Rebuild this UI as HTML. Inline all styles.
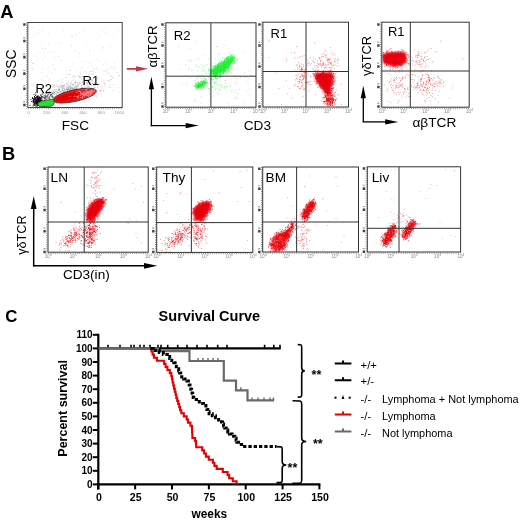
<!DOCTYPE html>
<html><head><meta charset="utf-8"><style>
html,body{margin:0;padding:0;background:#fff;width:520px;height:520px;overflow:hidden}
svg{display:block;font-family:"Liberation Sans", sans-serif;will-change:transform}
</style></head><body>
<svg width="520" height="520" viewBox="0 0 520 520">
<defs><filter id="b" x="-20%" y="-20%" width="140%" height="140%"><feGaussianBlur stdDeviation="0.85"/></filter>
<filter id="b2" x="-20%" y="-20%" width="140%" height="140%"><feGaussianBlur stdDeviation="1.2"/></filter></defs>
<rect width="520" height="520" fill="#fff"/>
<text x="0.3" y="17.6" font-size="18.3" font-weight="bold" text-anchor="start" fill="#000" >A</text>
<text x="1.9" y="159.6" font-size="18.3" font-weight="bold" text-anchor="start" fill="#000" >B</text>
<text x="5.2" y="321.6" font-size="16.8" font-weight="bold" text-anchor="start" fill="#000" >C</text>
<path d="M26.6 22.5V108.7H122.2" stroke="#777" stroke-width="1" fill="none" stroke-dasharray="0.8 1.4"/>
<path d="M41.5 43h1M74.5 50.5h1M83.5 30.5h1M32.5 85h1M43 69h1M113 37h1M36 60h1M41.5 32h1M114.5 67.5h1M85.5 42h1M63 29h1M75.5 34h1M89 63.5h1M54.5 69h1M42 48.5h1M100.5 69.5h1M89.5 50h1M75.5 35.5h1M103 47.5h1M79 53h1M117.5 87.5h1M48 34h1M79.5 32.5h1M73 64h1M61.5 91h1M82.5 87.5h1M51 73.5h1M101.5 31h1M107.5 80.5h1M41.5 72.5h1M71.5 36h1M54.5 57.5h1M37 30h1M110 80h1M68 74.5h1M43 80.5h1M90 77.5h1M48 44.5h1M110.5 79.5h1M49 43h1M33 35.5h1M47.5 52.5h1M60.5 60h1M71.5 45.5h1M111 67h1M92 67h1M60 42.5h1M31.5 68h1M44 50.5h1M119 75.5h1M71 46h1M91.5 80h1M34.5 54.5h1M33 63.5h1M105.5 71.5h1M82.5 61h1M57.5 44h1M58 92h1M38 33h1M45 48.5h1M32 63.5h1M105 28.5h1M71.5 37h1M41 80h1M96 79h1M47.5 69h1M35.5 87h1M83.5 77h1M110 46.5h1M32 69.5h1M102 49.5h1M47 76.5h1M38 52.5h1M31.5 37h1M56 85h1M95 73h1M74 76.5h1M106 64h1M49 79h1M58 56.5h1M53 64.5h1M117.5 30.5h1M114 63.5h1M60.5 81h1M69 74h1M58 80.5h1M96.5 59.5h1M33.5 85.5h1M36 34h1M66 85h1M51.5 51.5h1M105.5 32.5h1M96 68h1M78.5 57h1M89 55h1M91.5 83.5h1M99.5 35.5h1M112.5 68h1M43 54h1M86 62h1M42.5 60h1M69.5 35.5h1M100 61h1M110 84.5h1M97.5 38h1M33 27.5h1M62 31h1M44.5 57.5h1M119 92h1M42.5 29.5h1" stroke="#999" stroke-opacity="0.3" stroke-width="1" fill="none"/>
<path d="M57.5 94h1M112.5 84.5h1M69 93h1M69 87.5h1M76 70h1M80 78h1M62 79.5h1M47 87h1M97 93.5h1M79.5 93.5h1M69.5 74.5h1M81.5 88.5h1M70 90h1M87.5 77.5h1M49 91.5h1M73.5 84.5h1M100 93h1M71 93h1M97.5 86.5h1M97.5 78.5h1M96 96h1M92.5 78h1M92 91.5h1M84 80.5h1M106 70h1M87.5 83.5h1M57 100h1M83 76.5h1M89 80h1M40 90.5h1M84 89h1M81.5 85.5h1M87 82.5h1M101 81.5h1M84.5 88.5h1M56.5 86.5h1M108 81h1M73 89.5h1M69 90h1M65.5 91h1M49.5 102.5h1M65.5 77.5h1M73 84.5h1M79 77.5h1M54 94.5h1M72.5 89h1M41 87h1M87 83.5h1M108.5 73.5h1M86.5 105h1M61.5 83.5h1M77 86h1M94.5 83h1M63.5 91h1M62 94.5h1M78 100h1M97.5 87.5h1M81.5 85h1M87 93h1M88 81h1M103 81h1M75 81h1M66 84.5h1M88.5 82h1M99 84h1M81 67.5h1M74.5 90.5h1M112.5 90.5h1M103.5 71h1M36.5 100.5h1M80 92.5h1M76 88h1M49.5 96.5h1M70 90.5h1M86.5 83h1M84 84.5h1M93.5 85.5h1M66.5 84.5h1M111.5 77h1M98 84h1M66 83.5h1M81 87h1M88 74.5h1M66.5 88h1M105 62h1M85.5 80h1M85.5 80.5h1M87.5 95h1M85.5 87h1M84 79h1M88 82h1M62 89.5h1M75 92h1M76.5 82.5h1M108 85.5h1M103.5 84h1M75 83.5h1M74 94h1M77.5 75.5h1M75 76.5h1M79 77h1M53.5 93h1M73.5 75h1M96 97h1M52.5 105.5h1M64 86h1M72 77h1M104 83h1M63 88h1M48 91h1M93.5 70h1M70 89h1M100.5 90h1M68 83h1M86 81.5h1M74 95h1M111 79.5h1M75 91h1M41.5 95h1M92 83.5h1M70 70h1M94.5 93.5h1M65 94h1M89.5 72h1M98.5 90.5h1M82.5 84.5h1M90.5 71.5h1M81.5 92.5h1M55.5 99h1M66.5 74h1M74.5 80h1M82 76.5h1M97 76h1M84 80h1M74 95.5h1M81.5 82.5h1M55.5 100h1M91.5 80h1M81 78h1M57 85.5h1M85.5 86.5h1M65 94.5h1M93.5 83.5h1M97.5 79h1M76.5 90h1M78.5 91.5h1M56 101.5h1M62.5 88.5h1M52.5 96.5h1M104.5 87h1M91.5 71.5h1M62 86.5h1M62 98h1M81.5 85h1M86 77h1M59 84.5h1M88 86h1M91 90.5h1M50.5 89h1M78.5 76h1M69.5 95.5h1M101 88h1M78.5 84.5h1M98.5 78h1M87 93.5h1M70 83.5h1M79 90h1M87.5 84.5h1M86 72.5h1M61.5 91.5h1M57.5 81.5h1M53 85.5h1M73 80h1M85.5 96.5h1M77.5 95.5h1M81.5 77h1M71.5 80.5h1M91 74.5h1M104.5 83.5h1M40 101h1M107 73h1M94 69h1M80 73.5h1M84.5 71.5h1M94.5 82.5h1M73 91.5h1M108 69.5h1M89.5 85.5h1M53 104h1M114 70h1M112 78h1M77.5 97h1M83 87h1M109.5 87.5h1M93 72h1M49.5 101.5h1M60.5 91.5h1M57 90h1M56 103.5h1M58 90h1M76.5 95h1M50.5 92.5h1M75 90.5h1M86.5 80.5h1M82 82.5h1M87 83h1M65 89h1M89 99.5h1M69 90.5h1M103 65h1M42 86.5h1M80 103h1M87.5 92.5h1M69.5 70.5h1M35 104h1M79.5 76.5h1M97 70h1M102.5 90.5h1M61.5 82h1M92.5 74.5h1M92.5 73.5h1M94 82.5h1M68 82h1M79.5 72h1M72 84.5h1M89 74h1M110.5 75.5h1M58.5 101h1M110 76.5h1M60.5 90.5h1M64 87h1M109 81h1M81.5 87.5h1M78.5 92h1M94.5 79h1M84 102h1M86 82.5h1M118 76h1M58 96h1M59.5 87h1M84 83.5h1M62.5 86h1M68.5 97h1M63 85.5h1M116.5 72.5h1M109 87.5h1M72.5 77h1M88 88.5h1M97 82h1M103.5 89.5h1M60 101h1M80.5 81.5h1M75 100.5h1" stroke="#999" stroke-opacity="0.35" stroke-width="1" fill="none"/>
<path d="M75 82h1M67 89.5h1M63.5 89h1M51.5 97h1M56 92h1M59 89.5h1M74 89h1M58 89.5h1M62 94h1M67.5 90.5h1M62.5 90.5h1M67 84h1M82.5 83h1M61 95.5h1M68.5 89.5h1M58.5 87.5h1M69 93h1M57.5 96.5h1M53.5 91.5h1M71.5 88.5h1M72.5 86h1M53.5 87.5h1M52.5 90.5h1M51 95h1M57.5 86.5h1M91.5 80h1M53.5 97.5h1M77.5 83h1M49.5 91.5h1M77.5 85.5h1M57.5 92.5h1M77.5 82.5h1M61 87h1M90.5 88.5h1M76 86.5h1M71 82h1M68 85.5h1M51.5 92h1M63 92.5h1M73.5 88.5h1M56.5 95h1M65.5 94h1M54 85h1M62.5 97.5h1M71 88h1M76 89h1M70.5 87h1M67 90.5h1M58.5 88.5h1M68.5 92.5h1M73.5 89.5h1M73.5 96h1M69.5 92h1M86.5 84h1M69.5 92h1M84 86h1M70 89h1M54 97h1M62 86h1M63 85.5h1M55.5 93h1M57 96h1M50.5 95h1M73 92.5h1M76 88h1M67 89.5h1M77.5 84.5h1M71.5 88h1M68.5 88.5h1M88 81.5h1M69 90h1M73 89.5h1M71.5 91.5h1M50 94.5h1M53.5 94.5h1M53 91h1M66.5 94h1M72.5 89h1M80 83h1M43.5 95h1M64 94.5h1M87.5 79.5h1M93.5 87h1M75.5 88.5h1M92 83h1M61.5 92h1M52 95.5h1M65.5 91.5h1M69 86h1M79 83h1M74 82.5h1M69.5 86.5h1M66 88h1M42 93.5h1M67.5 91.5h1M49 88.5h1M57 92h1M59 89.5h1M76 90h1M73 85h1M67 89h1M52 97h1M66.5 88.5h1M82 88h1M76 91h1M72.5 84h1M63 94h1M58 92.5h1M71.5 93h1M80.5 88.5h1M65 93h1M71.5 88h1M81 87.5h1M59 96h1M64 92.5h1M50 94.5h1M55.5 90h1M47.5 102h1M64.5 91h1M77.5 86.5h1M70.5 84.5h1M68 88h1M71.5 89h1M50 89h1M56 95h1M71 90h1M42.5 88.5h1M59 91h1M60 93h1M63.5 87h1M57 93h1M67 89.5h1M90 82.5h1M66.5 87h1M62.5 92.5h1M72 88h1M70 89h1M43.5 86.5h1M91 85.5h1M64 85h1M53.5 98h1M36 97.5h1M75.5 88h1M74 87.5h1M90.5 80h1M52 95h1M81 85.5h1M76.5 85.5h1M54.5 97.5h1M84 89.5h1M60.5 88h1M53.5 93h1M72.5 89.5h1M51 95h1M66.5 90h1M65.5 89.5h1M72.5 88.5h1M68 87.5h1M70 88.5h1M44 98h1M64 93.5h1M64 90h1M68 89.5h1M60 86h1M84 80h1M63 93h1M70.5 90.5h1M75 91.5h1M71.5 97.5h1M55.5 93.5h1M61.5 89.5h1M70 93.5h1M58 90h1M74 89.5h1M87.5 87h1M68 88.5h1M68 89h1M51.5 94h1M64 90h1M63 96h1M74 90.5h1M58.5 89h1M63 91.5h1M62 90.5h1M76.5 88h1M55 91.5h1M59 92.5h1M53.5 93h1M73.5 88h1M56 91h1M67.5 91h1M74.5 87h1M53 98h1M69.5 90.5h1M68.5 86h1M63 91.5h1M77 87h1M33 99h1M71 92.5h1M75.5 95h1M82 89.5h1M75 83h1M75.5 89h1M61 93.5h1M70 87.5h1M64.5 89.5h1M68 88h1M70 83h1M61.5 86h1M61.5 93h1M66 89.5h1M68 94.5h1M55 96h1M49.5 93h1M67 87h1M69 91.5h1M53.5 93.5h1M60.5 85.5h1M63.5 88.5h1M79.5 83.5h1M83.5 83.5h1M87 85.5h1M71.5 91h1M76.5 91.5h1M84 83.5h1M50.5 86h1M62.5 93.5h1M70 89h1M62 89h1M63.5 92h1M48 97.5h1M50.5 94h1M59 91h1M54 90h1M62.5 87.5h1M91.5 81.5h1M58.5 90.5h1M52.5 86h1M63.5 91.5h1M50 94.5h1M53 93.5h1M70 90.5h1M70 86.5h1M75 86h1M70 91h1M61.5 87h1M71.5 85h1M55.5 89.5h1M74.5 87h1M42.5 99h1M89.5 89h1M60 92h1M72 91h1M65.5 86.5h1M74.5 89.5h1M51.5 93h1M68.5 89h1M72 90.5h1M71.5 88h1M52 96h1" stroke="#8a9a9a" stroke-opacity="0.5" stroke-width="1" fill="none"/>
<path d="M52.5 98.5h1M46 96.5h1M52 97.5h1M47.5 97.5h1M43.5 98.5h1M42.5 97h1M45 96h1M37.5 97h1M47 96h1M44.5 97.5h1M49 97.5h1M43 97.5h1M44 95.5h1M40 98h1M43.5 101h1M45.5 96h1M45.5 100h1M42 97h1M43 97h1M46.5 98.5h1M40.5 98h1M52 94h1M45 95h1M36 99h1M50.5 94.5h1M39 99h1M46.5 98h1M49.5 95h1M46.5 93h1M50.5 95.5h1M50.5 97h1M44.5 96.5h1M41.5 94h1M45.5 97h1M42 99h1M46.5 97h1M42 94h1M49 96.5h1M45.5 96h1M45 96.5h1M43 93.5h1M48.5 93h1M44.5 96.5h1M46 93.5h1M51 96.5h1M49.5 98h1M41.5 92h1M48 98.5h1M50 94.5h1M45.5 97h1M38.5 97h1M44 100h1M44 100h1M45.5 93.5h1M54 92.5h1M49 99h1M43.5 95h1M50 95.5h1M41 96h1M45 98.5h1M45 98h1M53 97h1M52 97h1M40.5 100.5h1M47 96h1M41 95h1M41.5 97.5h1M41 96.5h1M44 98.5h1M45 96.5h1M51 94.5h1M48 94h1M47.5 96.5h1M46.5 95.5h1M42 97h1M44.5 99h1M49 93.5h1M48 95h1M47.5 95h1M41 100h1M47 94h1M38.5 97.5h1M41.5 97h1M49 98.5h1M45.5 99.5h1M50.5 94.5h1M40 99.5h1M49.5 100h1M52 96.5h1M52 93h1" stroke="#555" stroke-opacity="0.6" stroke-width="1" fill="none"/>
<path d="M37.5 100.5h1M41 103h1M29.5 105.5h1M35 104h1M36 102.5h1M38.5 102h1M34.5 105.5h1M38 101.5h1M38.5 100h1M41.5 102h1M38 102.5h1M35 98h1M37.5 102.5h1M40.5 103h1M34.5 103h1M39 104.5h1M38 98h1M40 99.5h1M38.5 97h1M39 99h1M39.5 107h1M40 98h1M35 99h1M38.5 102.5h1M37.5 102.5h1M38.5 103.5h1M41 101.5h1M37.5 96h1M34 99.5h1M34 102h1M39.5 100h1M36 100h1M37.5 100h1M38 102.5h1M38 104h1M37 102h1M41 101.5h1M39 101.5h1M36 100h1M35 101.5h1M35.5 100h1M40 101h1M39.5 102.5h1M39 99.5h1M39 104.5h1M37.5 104h1M34 99h1M38 104h1M36 101h1M36 101h1M34 97h1M37 96.5h1M34.5 99.5h1M34.5 102h1M36 101h1M34.5 99h1M38 102.5h1M36 102.5h1M37.5 102h1M41 100h1M38 102.5h1M36.5 98h1M38.5 102h1M37 101.5h1M37 98.5h1M37.5 96h1M37 97h1M36 103.5h1M36.5 100h1M38 100.5h1M36 100h1M40.5 103.5h1M38 98h1M38.5 97.5h1M38 98h1M41.5 96.5h1M40 103.5h1M32.5 100.5h1M40.5 104.5h1M33 100h1M34 98h1M35.5 107h1M37 100.5h1M36 103.5h1M38.5 98.5h1M40.5 98h1M36 102.5h1M41 100.5h1M37.5 105h1M38.5 104.5h1M39.5 102h1M38.5 104h1M37 106h1M32 98.5h1M40.5 102.5h1M35.5 102.5h1M39.5 99.5h1M38.5 101h1M36.5 101h1M39.5 98h1M36 103.5h1M34 96.5h1M38 101.5h1M36.5 101.5h1M34.5 100h1M33.5 100h1M40.5 101.5h1M38.5 100h1M41 102h1M34 103.5h1M36 103h1M37 102h1M37 98.5h1M33 104h1M36.5 102h1M35.5 95h1M34 105.5h1M35 100h1M33.5 99.5h1M36 100.5h1M36.5 99.5h1M35.5 101.5h1M37.5 101h1M41 102h1M37 99.5h1M39.5 98h1M33 98.5h1M38.5 98h1M40 101h1M33 100.5h1M41 98.5h1M33.5 103h1M40 104.5h1M36 102h1M37.5 105h1M42 101h1M40 100.5h1M38 98.5h1M35 102.5h1M34.5 104h1M35.5 101.5h1M36.5 100.5h1M37 104.5h1M44.5 97.5h1M37.5 101h1M34.5 102h1M34.5 101h1M40 95h1M37.5 102.5h1M34.5 103h1M37.5 100h1M39.5 97.5h1M38.5 100.5h1M34.5 101h1M36 103.5h1M33 100.5h1M35.5 106h1M34 104.5h1M32.5 102.5h1M36.5 102.5h1M35 95.5h1M33 105h1M37.5 98.5h1M39 99h1M35 97.5h1M34.5 102h1M31 101.5h1M38.5 97h1M38 102h1M38.5 99.5h1M38 99.5h1M38 101.5h1M36 97h1M40.5 104.5h1M39 99h1M36 106h1M38.5 98.5h1M37 101.5h1M36.5 98.5h1M40 103h1M36.5 96.5h1M35.5 101h1M39 100h1M39.5 101.5h1M35 93h1M34 97h1M36.5 102.5h1M40 101h1M37.5 100.5h1M36 97h1M38.5 102.5h1M40.5 104.5h1M39 105h1M36 100h1M36.5 97.5h1M36.5 100.5h1M38.5 101.5h1M32.5 101.5h1M40.5 96h1M35 101.5h1M33.5 99.5h1M37 97.5h1M37.5 102.5h1M34 101.5h1M39.5 101h1M38 103.5h1M36.5 104.5h1M38 98.5h1M38 104h1M39 99.5h1M38 105.5h1M37.5 105h1M40 101.5h1M38.5 100.5h1M39.5 101h1M35.5 101.5h1M37 102.5h1M38 98h1M35.5 102.5h1M38 101.5h1M43.5 105h1M37 103.5h1M40 102.5h1M33 102h1M32.5 106h1M36.5 104.5h1M36.5 102h1M39.5 102h1M39.5 101.5h1M36 101h1M36 101h1M40.5 98h1M33 101.5h1M41 104.5h1M40 105.5h1M35.5 102h1M30.5 99.5h1M38.5 97h1M32 97.5h1M37.5 105h1M43.5 106h1M33.5 94.5h1M37.5 105h1M33 100h1M36 101.5h1M36.5 103h1M39.5 102h1M34.5 98.5h1M37.5 105h1M36.5 104.5h1M35.5 103.5h1M38 103h1" stroke="#1a0a1a" stroke-opacity="0.85" stroke-width="1" fill="none"/>
<ellipse cx="74.8" cy="95.6" rx="22" ry="5.8" transform="rotate(-12.5 74.8 95.6)" fill="#ea2a30" stroke="#333" stroke-width="0.85"/>
<ellipse cx="68" cy="97" rx="14" ry="4.3" transform="rotate(-12.5 68 97)" fill="#e00000" filter="url(#b2)"/>
<path d="M95 93.5h1M83.5 95.5h1M77 97.5h1M103 91h1M89.5 92.5h1M91.5 91h1M90.5 91.5h1M84.5 94h1M85.5 89.5h1M99 91h1M77.5 97.5h1M86.5 93.5h1M90.5 90.5h1M69.5 96.5h1M88.5 95h1M82 93.5h1M89 92h1M85.5 94h1M81.5 98h1M81.5 94.5h1M84.5 92h1M90.5 94.5h1M95.5 92.5h1M84.5 95.5h1M78.5 95h1M90 93.5h1M79.5 91.5h1M96 90h1M76.5 92.5h1M87.5 95.5h1M87 95.5h1M88 94h1M92 91h1M88 92h1M83 95.5h1M82 94.5h1M82 94h1M84 96h1M87 93h1M95 85h1M78.5 88.5h1M86.5 94h1M90.5 93h1M82 98h1M88 92h1M80 95.5h1M83 92.5h1M87.5 93h1M82 96.5h1M80 92h1M88 93h1M86.5 92h1M86 92h1M77 96.5h1M80 94h1M90.5 92h1M101.5 86.5h1M82 94h1M94 91h1M78 97.5h1M80.5 93.5h1M91 90.5h1M83.5 94.5h1M85 94h1M80.5 94h1M79 91h1M96.5 92h1M91 90h1M86 92.5h1M78 96h1M81.5 93.5h1M77.5 97h1M90.5 93h1M80.5 93h1M93 91h1M87.5 93h1M80 97.5h1M74.5 96h1M85 89.5h1M88 93.5h1M86 91h1M89 95h1M88 96.5h1M91.5 93.5h1M94 90h1M83 95h1M90 95.5h1M93 92h1M87 92h1M83.5 92.5h1M91 91h1M84 94h1M83 93h1M73.5 96.5h1M84.5 94h1M87.5 88.5h1M100.5 90.5h1M86.5 89h1M90.5 93h1M84.5 94h1M94 91h1M82 97h1M88.5 92.5h1M100.5 90.5h1M86 94h1M84.5 94h1M87.5 91.5h1M85.5 94h1M89.5 94h1M91.5 92.5h1M89.5 91.5h1M86 95.5h1M75.5 96.5h1M104.5 85h1M94.5 87.5h1M89.5 96h1M95 89.5h1M78 91.5h1M90.5 91.5h1M86.5 93.5h1" stroke="#f6a0a0" stroke-opacity="0.7" stroke-width="1" fill="none"/>
<path d="M38.2 105.6C37.2 103.5 38.5 101.6 42 100.9L51.5 99.4C54.2 99.2 54.8 101.8 53.8 103.8C53.2 105.6 52 106.3 49.5 106.4L40.5 106.5C39.4 106.5 38.6 106.2 38.2 105.6Z" fill="#22e22c" stroke="#222" stroke-width="0.7"/>
<rect x="27.8" y="22.5" width="94.4" height="85.0" fill="none" stroke="#444" stroke-width="1"/>
<path d="M23.200000000000003 24.5h2.4M23.200000000000003 41h2.4M23.200000000000003 57.1h2.4M23.200000000000003 73.6h2.4M23.200000000000003 88.8h2.4M23.200000000000003 105h2.4" stroke="#444" stroke-width="2.6"/>
<path d="M23.200000000000003 37.8h2M23.200000000000003 53.9h2M23.200000000000003 70.39999999999999h2M23.200000000000003 85.6h2M23.200000000000003 101.8h2" stroke="#aaa" stroke-width="1.4"/>
<text x="28.5" y="113.6" font-size="4.4" fill="#999" text-anchor="middle">0</text>
<text x="46.7" y="113.6" font-size="4.4" fill="#999" text-anchor="middle">200</text>
<text x="64.9" y="113.6" font-size="4.4" fill="#999" text-anchor="middle">400</text>
<text x="83.1" y="113.6" font-size="4.4" fill="#999" text-anchor="middle">600</text>
<text x="101.3" y="113.6" font-size="4.4" fill="#999" text-anchor="middle">800</text>
<text x="119.5" y="113.6" font-size="4.4" fill="#999" text-anchor="middle">1000</text>
<text x="35.4" y="92.8" font-size="13" font-weight="normal" text-anchor="start" fill="#000" >R2</text>
<text x="82.6" y="84.6" font-size="13" font-weight="normal" text-anchor="start" fill="#000" >R1</text>
<text x="15.9" y="78" font-size="13.8" font-weight="normal" text-anchor="start" fill="#000" transform="rotate(-90 15.9 78)">SSC</text>
<text x="61.8" y="129.6" font-size="13.6" font-weight="normal" text-anchor="start" fill="#000" >FSC</text>
<path d="M126.8 67.9H136V66.2L148 68.8L136 71.5V69.7H126.8Z" fill="#c8354a"/>
<path d="M164.70000000000002 22.8V108.4H256" stroke="#777" stroke-width="1" fill="none" stroke-dasharray="0.8 1.4"/>
<path d="M215 59h1M227.5 49h1M195.5 66.5h1M249.5 95h1M201 103h1M250 75h1M195.5 64.5h1M211 91h1M226 67.5h1M194.5 59.5h1M205.5 89h1M224.5 45.5h1M231.5 90.5h1M244 102h1M216.5 46.5h1M247 91h1M196 41.5h1M220.5 48h1M232 59h1M181 105h1M234 43.5h1M236.5 69.5h1M217 69h1M244.5 51.5h1M227.5 103.5h1M202.5 55.5h1M235.5 98.5h1M214 75.5h1M226 86.5h1M249 88.5h1M227 84h1M233.5 92.5h1M236 97.5h1M190 49h1M178 46h1M180.5 69.5h1M210 47h1M247.5 78.5h1M208.5 101h1M244.5 73.5h1" stroke="#16ee2a" stroke-opacity="0.3" stroke-width="1" fill="none"/>
<path d="M212.5 96h1M212 80h1M215 81.5h1M216 81.5h1M201.5 75.5h1M233 67h1M208.5 88.5h1M221.5 86h1M189.5 77.5h1M201 64h1M221.5 87h1M198.5 66.5h1M209.5 75h1M200.5 96.5h1M223.5 73h1M210 97.5h1M243.5 72h1M220.5 87.5h1M202 71h1M232.5 70h1M211 64h1M207 82.5h1M206.5 64.5h1M208.5 92h1M218.5 71h1M218 80h1M217.5 60h1M220 74h1M226.5 64h1M229 71.5h1M195.5 88h1M210 79.5h1M214 86h1M229.5 86h1M224.5 61.5h1M195.5 78h1M204.5 80h1M218 63h1M203.5 65.5h1M205.5 74h1M224 88h1M204 71h1M235 84h1M219 54.5h1M204 77.5h1M209 94h1M217 78.5h1M202.5 66.5h1M208 70.5h1M213 79.5h1M219 85h1M199.5 78h1M219 90.5h1M213.5 79h1M206 80h1M221 70.5h1M210.5 75.5h1M223 65.5h1M226.5 73h1M239 89.5h1M211 70.5h1M246 81.5h1M223 72h1M214.5 83.5h1M223.5 68.5h1M231 79h1M204.5 85h1M214 83h1M209.5 79.5h1M196.5 79.5h1M197.5 77.5h1M185 75.5h1M224.5 80.5h1M230.5 66h1M235 90.5h1M201.5 69h1M209 76h1M218 53.5h1M223 73.5h1M203.5 84.5h1M212 86.5h1M222.5 73h1M230 83.5h1M210 61.5h1M209.5 81.5h1M213 92h1M219 77.5h1M221 68h1M214.5 70h1M187.5 60h1M225 72h1M214.5 62.5h1M209 83h1M217 71h1M234.5 75.5h1M211.5 86.5h1M195 81h1M202.5 69h1M207.5 77h1M217 78.5h1M218.5 88.5h1M236.5 82.5h1M225 72.5h1M202.5 81.5h1M216.5 83.5h1M194 100.5h1M200.5 76.5h1M228 63.5h1M209.5 57.5h1M198.5 58.5h1M217 78.5h1M212 87.5h1M233 76h1M213.5 73.5h1M210.5 88h1M219 73h1M213 81h1M211 79h1M215.5 88.5h1M230 63h1M214 82.5h1M210.5 83.5h1M220 81.5h1M215.5 79h1M222.5 62.5h1M205 67h1M236.5 79h1M220.5 77.5h1M210 69.5h1M226.5 72.5h1M235 78h1M217 74h1M215 76.5h1M234.5 97h1M202 78.5h1M224.5 68h1M208.5 72h1M187 82h1M215.5 75h1M217 78.5h1M244 77.5h1M226 71.5h1M220.5 73h1M214.5 68h1M206.5 80h1M225 80.5h1M208 79h1M185.5 84.5h1M215.5 78.5h1M230 72.5h1M227.5 72h1M223 72.5h1M220 89.5h1M208.5 70.5h1M212.5 79h1M249.5 71h1M191.5 70.5h1M197 71h1M216.5 67.5h1M208 59.5h1M218.5 69.5h1M229.5 86h1M206 73h1M217 83h1M196.5 75.5h1M239 75.5h1M219 76.5h1M202 85h1M219.5 78h1M225 83.5h1M193.5 80.5h1M209.5 78h1M208 68.5h1M228 76.5h1M213 74h1M217.5 76.5h1M188 68.5h1M214 83h1M233 68h1M240 77.5h1M222.5 72h1M209.5 89.5h1M214 75.5h1M231 92h1M199 75h1M217 93h1M246.5 76.5h1M221.5 84.5h1M231 74h1M227.5 70.5h1M185 64.5h1M219.5 84h1M190 60.5h1M217 46.5h1M224 86.5h1M181.5 84h1M215 90h1M221 75h1M219 85.5h1M220 77.5h1M200 81.5h1M218 94h1M217.5 76.5h1M210 84h1M215 71h1M237 93.5h1M212.5 68h1M231.5 70h1M251.5 76h1M229.5 65.5h1M217.5 87h1M223 72.5h1M247.5 84h1M215 72h1M214.5 89.5h1M208.5 77.5h1M208 88.5h1M216 85h1M224.5 72h1M226.5 86h1" stroke="#16ee2a" stroke-opacity="0.35" stroke-width="1" fill="none"/>
<path d="M214 74h1M227 66.5h1M210 71h1M221.5 71h1M221.5 71.5h1M210 72h1M224 69h1M231.5 60.5h1M220 65.5h1M214 72h1M234 57.5h1M218 68.5h1M223 70.5h1M218 65h1M222 70.5h1M229.5 65.5h1M231 60.5h1M212.5 71.5h1M215.5 75.5h1M226.5 57.5h1M212.5 66.5h1M229.5 64.5h1M228 67h1M217 72.5h1M232 59.5h1M230 61.5h1M221.5 70.5h1M230 56.5h1M225 58.5h1M225.5 64.5h1M225 67h1M216.5 72.5h1M225 63h1M226 67.5h1M223.5 61h1M232 56.5h1M234.5 62h1M214.5 69h1M217.5 67h1M216.5 72h1M224 65.5h1M213 69h1M226 66h1M226 57.5h1M232 61h1M234.5 61.5h1M210.5 72.5h1M225.5 66.5h1M215 74h1M219 66.5h1M223.5 68.5h1M224.5 69h1M223.5 61.5h1M226.5 62h1M215.5 71.5h1M218.5 69h1M223 70h1M222.5 67h1M219.5 69h1M225 64h1M226 61.5h1M231.5 62h1M221.5 70.5h1M215 73.5h1M228.5 62.5h1M228 68.5h1M232 61.5h1M226.5 68h1M221.5 70h1M220.5 60.5h1M215 70h1M215.5 74h1M219.5 69h1M226 59.5h1M215 66h1M214.5 77.5h1M219.5 68.5h1M226.5 66h1M220.5 68.5h1M215.5 74.5h1M229.5 65h1M222.5 73h1M213 72.5h1M217.5 66h1M220 71.5h1M225 64.5h1M211 80h1M225 70.5h1M229.5 60.5h1M228 58h1M231.5 56.5h1M222 69.5h1M224 62h1M211.5 78h1M230.5 63h1M217 74.5h1M215 69.5h1M224.5 64h1M230.5 62h1M212.5 73h1M227 62.5h1M219 70h1M218 69h1M222.5 68.5h1M215 69.5h1M224 71h1M226.5 61h1M234 61h1M226.5 64.5h1M228.5 59.5h1M212 71h1M214 71h1M218 68.5h1M230.5 62h1M212 71.5h1M215 71.5h1M224.5 66.5h1M231 68.5h1M216 70.5h1M225.5 67h1M220.5 62h1M222.5 65.5h1M217.5 63.5h1M220.5 65.5h1M227 69h1M219.5 75h1M217 67.5h1M225.5 69h1M217 72.5h1M227 56.5h1M226.5 64h1M221.5 70h1M229 63h1M220 63.5h1M223.5 72.5h1M229 64h1M215 69.5h1M217 74h1M226.5 58.5h1M221 64h1M230 57.5h1M231.5 60.5h1M226 62.5h1M219.5 69h1M232.5 59.5h1M227.5 68h1M221.5 64h1M216.5 72.5h1M212.5 66.5h1M213.5 66.5h1M214.5 71.5h1M226.5 59.5h1M223 71h1M228.5 53h1M217 66.5h1M214 65.5h1M228.5 61.5h1M214.5 72.5h1M224 71.5h1M213.5 79h1M230 60.5h1M229 69.5h1M216 73.5h1M210 74.5h1M229.5 62h1M219 66h1M229.5 63h1M214.5 71.5h1M224 65.5h1M227.5 71h1M219.5 75h1M231.5 67h1M213.5 72h1M216 69.5h1M217 67h1M216.5 71h1M212 72h1M219 74h1M218 71.5h1M223.5 63.5h1M224.5 68.5h1M224 71h1M220.5 67.5h1M232 60.5h1M216.5 74h1M229.5 62h1M234 59h1M217 65h1M232 58h1M233.5 63h1M222 71h1M230 57.5h1M215.5 66.5h1M213 70.5h1M215 68h1M228.5 59h1M216 70.5h1M222 69.5h1M213.5 76.5h1M220.5 71h1M232.5 63.5h1M226.5 67h1M224.5 70.5h1M223.5 65.5h1M225 63h1M231 60.5h1M234 56h1M220 64h1M218 65.5h1M218 69.5h1M224 70h1M215.5 66.5h1M227.5 63h1M226.5 68.5h1M213.5 71h1M225 63h1M228.5 62h1M216 70.5h1M227 66.5h1M214 75h1M210.5 71h1M220 65.5h1M218.5 73.5h1M217 66.5h1M214 76h1M230 62.5h1M228 66.5h1M228 65h1M218 64h1M209 73.5h1M215 69h1M227 61.5h1M222 70h1M219 64.5h1M214.5 66.5h1M211.5 75.5h1M232.5 59h1M221.5 70h1M227.5 60.5h1M218.5 66.5h1M225.5 60.5h1M222.5 73.5h1M213 73.5h1M224 66.5h1M217 66h1M219.5 71h1M233 60h1M216 69.5h1M222 68.5h1M223.5 65.5h1M231.5 60.5h1M224 70h1M214.5 72.5h1M213 72h1M218.5 65h1M224 61h1M218 69.5h1M223.5 63.5h1M237 59.5h1M216.5 73h1M217 68h1M212.5 70h1M223.5 63.5h1M215.5 68h1M231.5 55h1M228.5 61h1M228.5 64.5h1M220 74h1M221.5 65.5h1M231 57h1M224.5 67h1M215.5 77h1M233 57.5h1M228.5 63.5h1M216.5 70.5h1M218 68.5h1M223.5 68h1M231.5 63.5h1M222.5 70h1M221 70.5h1M224.5 68h1M228 60.5h1M229 61h1M217 68.5h1M226 59.5h1M223 72h1M223.5 64h1M216.5 71.5h1M233 54h1M226.5 67.5h1M223 71h1M224.5 62h1M221 70h1M228.5 65.5h1M226.5 70h1M218 71.5h1M230 64h1M214.5 70h1M219.5 71h1M231.5 59.5h1M226 66.5h1M216.5 73.5h1M231 61h1M231 59.5h1M229.5 64h1M217.5 71h1M233.5 60.5h1M213.5 68h1M217 74h1M219.5 69.5h1M219.5 77h1M220 64h1M223 63h1M216 71h1M226 62h1M218 68h1M217 65h1M225 70h1M218 71.5h1M216.5 75h1M215 68h1M221 67.5h1M227.5 63.5h1M212.5 70.5h1M220.5 69.5h1M215.5 75h1M218.5 67.5h1M218 71h1M223 66.5h1M233.5 60.5h1M229.5 60h1M219.5 63h1M226 61.5h1M225.5 66.5h1M233.5 59.5h1M222.5 62h1M223.5 70h1M227.5 58.5h1M218.5 66.5h1M223.5 63.5h1M214 69.5h1M215 71h1M222.5 68h1M224 64.5h1M225 67.5h1M216.5 71h1M217 70h1M227.5 58.5h1M226 64.5h1M224 61h1M225 66.5h1M224 61.5h1M228.5 70.5h1M228.5 60.5h1M227 60h1M225.5 64h1M228.5 62h1M234 58h1M223 63h1M228 68.5h1M225 69h1M224.5 60.5h1M223 70h1M216 68h1M228 56.5h1M217.5 66h1M222 64.5h1M220 73.5h1M228 61h1M215.5 75.5h1M228 65h1M222 74h1M217 64.5h1M224.5 71.5h1M224 66.5h1M217.5 74h1M221 73h1M227.5 62h1M211.5 73.5h1M215.5 73h1M214 70h1M208.5 70h1M224 64h1M229 67h1M223 71.5h1M226 64.5h1M220 67.5h1M212.5 73h1M211 69.5h1M220 75.5h1M214.5 75.5h1M225 66h1M225 62.5h1M222.5 65.5h1M214.5 74.5h1M220 71.5h1M228.5 67.5h1M226 67h1M230.5 63.5h1M231.5 55.5h1M219 73h1M231 61.5h1M213 71h1M231.5 60.5h1M214.5 72h1M221.5 64h1M221 61.5h1M222 76h1M219.5 71h1M222.5 67.5h1M218.5 70.5h1M226 63h1M217 72.5h1M216.5 64.5h1M214.5 76h1M220 68h1M215 67h1M216 79h1M211 78.5h1M226.5 60.5h1M216.5 67.5h1M214.5 69.5h1M228.5 65.5h1M216 73.5h1M214.5 72h1M220 67h1M219.5 70.5h1M214.5 68h1M213.5 72.5h1M237 60h1M227 58.5h1M223 66.5h1M218 68.5h1M213 70h1M227.5 57.5h1M228.5 65h1M217.5 68.5h1M228 67h1M228 60h1M223 67h1M225.5 66h1M218 76h1M230.5 60h1M234.5 57h1M227.5 67h1M217 70h1M231 59h1M224 59h1M218.5 76.5h1M210.5 70.5h1M221 66.5h1M224.5 60h1M222.5 66h1M218.5 70h1M211 71.5h1M218 67.5h1M226 66h1M214.5 72.5h1M227 61h1M214.5 66h1M232.5 58h1M215 68h1M219 64h1M224 61.5h1M216.5 65.5h1M223 67h1M222 62.5h1M211.5 74h1M224 68.5h1M224 65.5h1M221.5 66h1M216 69h1M224.5 66h1M214.5 74.5h1M209.5 74h1M217 70h1M213.5 72.5h1M220 69.5h1M221 70.5h1M219 62h1M218 72.5h1M229.5 57.5h1M228 62h1M227.5 64.5h1M229.5 59.5h1M214 73.5h1M225.5 68h1M225 67h1M223 62h1M220.5 76.5h1M230 54.5h1M218.5 72.5h1M224 64h1M214 71h1M226.5 62.5h1M222 68h1M231 61.5h1M223 62.5h1M221.5 71.5h1M230.5 57h1M213 72h1M220.5 69.5h1M221 66h1M220 65.5h1M221 70h1M231 55.5h1M220.5 68.5h1M212.5 71h1M217.5 69.5h1M223.5 68.5h1M217.5 76h1M232.5 57.5h1M223.5 66.5h1M215 74h1M225 63.5h1M232.5 58h1M221 70.5h1M225.5 68h1M230.5 58.5h1M222 70h1M231 62.5h1M218 68.5h1M222.5 63h1M233 61.5h1M221.5 65h1M213 70h1M227.5 71h1M227 61h1M225 65h1M215 76.5h1M223 66.5h1M226 62.5h1M218 66.5h1M210 75.5h1M215.5 77.5h1M213.5 68.5h1M218 66.5h1M219 71.5h1M218.5 64h1M233 63h1M220.5 72.5h1M218.5 72h1M218 67h1M230 60h1M230.5 58.5h1M217 71h1M227.5 62.5h1M227 68h1M216 73.5h1M226 58.5h1M220.5 62.5h1M217 76h1M225 67h1M219 69.5h1M225 71h1M218.5 69h1M224.5 68.5h1M221.5 70h1M217 69h1M228 59h1M234 62.5h1M215.5 72.5h1M233.5 63.5h1M215.5 73.5h1M222 57.5h1M221.5 62.5h1M230 62.5h1M215 76h1M212.5 73.5h1M221.5 63h1M228 56.5h1M211 73h1M213 70h1M222.5 66h1M227.5 64.5h1M226 58h1M228.5 64h1M223 65h1M216.5 74.5h1M224.5 59h1M211.5 73.5h1M223 73.5h1M225.5 70.5h1M224 61h1M235.5 58.5h1M215 67.5h1M217.5 67h1M218 70h1M211 71h1M224 69.5h1M223 64.5h1M224 62h1M223.5 65.5h1M224 63.5h1M235 63h1M229.5 62h1M219.5 71.5h1M220.5 68h1M223 64h1M215 78h1" stroke="#16ee2a" stroke-opacity="0.5" stroke-width="1" fill="none"/>
<polygon points="211.5,76 211.5,69.5 218.5,65 224.5,61 229,57.4 233,56.3 234.4,58.7 230.8,63.5 227.3,68.2 222.5,72.2 217.8,75 213,76" fill="#16ee2a" fill-opacity="0.82" filter="url(#b)"/>
<path d="M203 87.5h1M196.5 86h1M200 85.5h1M201 83h1M196 88.5h1M203 82h1M198.5 85.5h1M197 88h1M205.5 79.5h1M205.5 81.5h1M198 88h1M204.5 84h1M201 81h1M202 83.5h1M198 85.5h1M204 81.5h1M196.5 86h1M197.5 86h1M198.5 88h1M203.5 82.5h1M194.5 85.5h1M198.5 84.5h1M201.5 85h1M200 85.5h1M202 84.5h1M205 82.5h1M199.5 84.5h1M204 81.5h1M199 87h1M198 84.5h1M195 83.5h1M201.5 85.5h1M204 83.5h1M203.5 82.5h1M202.5 85.5h1M206 83.5h1M202.5 83.5h1M199 83.5h1M200 84h1M205 84h1M200.5 81.5h1M203 80.5h1M197 87h1M196 83h1M199 86h1M196.5 89h1M198.5 85.5h1M197.5 85h1M198.5 85.5h1M203 88h1M196.5 87h1M198.5 87h1M199.5 88h1M198 84h1M203 86h1M203.5 79h1M201 87h1M201.5 85h1M200.5 81.5h1M193.5 85.5h1M198.5 84h1M204 83h1M196.5 84h1M198.5 86h1M195.5 84.5h1M198.5 84h1M204.5 80.5h1M201.5 83h1M201.5 82h1M200.5 87.5h1M198.5 86h1M200.5 86h1M200 87h1M202.5 82.5h1M194.5 86.5h1M198.5 83.5h1M205 83h1M201 84.5h1M198 87.5h1M198.5 84h1M204.5 83.5h1M197.5 87.5h1M205 82.5h1M203.5 85.5h1M196.5 86.5h1M196 87.5h1M202.5 84h1M203.5 84h1M198 86.5h1M198 87h1M199.5 84h1M201.5 86.5h1M202 83.5h1M200 84h1M203 85h1M199.5 83h1M196 85h1M205 78.5h1M204 82.5h1M201.5 84h1M201 85.5h1M195 87h1M199.5 86h1M198.5 87h1M198.5 85h1M200.5 85.5h1M198 82.5h1M201.5 84h1M194.5 86.5h1M198 86h1M195.5 85.5h1M194.5 83.5h1M197 82.5h1M200.5 88h1M201.5 86h1M197.5 86.5h1M204 84.5h1M202 81.5h1M205 81.5h1M205 83h1M198 87h1M207 84h1M206 82.5h1M201.5 82.5h1M202 86h1M197.5 85h1M197.5 87h1M206.5 82.5h1M198.5 87h1M202 82.5h1M199.5 86.5h1M197.5 84.5h1M204 86.5h1M203.5 81h1M198 87h1M201 84.5h1M196.5 85.5h1M196 85.5h1M197.5 86h1M198 81.5h1M197.5 86h1M199 85h1M201.5 86h1M202.5 87h1M199 83.5h1M205 84h1M200.5 85.5h1M203 82h1M200 87h1M201 89.5h1" stroke="#16ee2a" stroke-opacity="0.5" stroke-width="1" fill="none"/>
<polygon points="195.8,87.6 196.3,85 200,83 204,81.3 206.5,81.8 203.8,84.6 199.5,87.8" fill="#16ee2a" fill-opacity="0.75" filter="url(#b)"/>
<rect x="165.9" y="22.8" width="90.1" height="84.4" fill="none" stroke="#333" stroke-width="1.0"/>
<line x1="210.9" y1="22.8" x2="210.9" y2="107.2" stroke="#333" stroke-width="1.0"/>
<line x1="165.9" y1="76.2" x2="256" y2="76.2" stroke="#333" stroke-width="1.0"/>
<text x="162.7" y="112.8" font-size="4.6" fill="#888">10<tspan font-size="3.4" dy="-1.6">0</tspan></text>
<text x="185.2" y="112.8" font-size="4.6" fill="#888">10<tspan font-size="3.4" dy="-1.6">1</tspan></text>
<text x="207.8" y="112.8" font-size="4.6" fill="#888">10<tspan font-size="3.4" dy="-1.6">2</tspan></text>
<text x="230.3" y="112.8" font-size="4.6" fill="#888">10<tspan font-size="3.4" dy="-1.6">3</tspan></text>
<text x="252.8" y="112.8" font-size="4.6" fill="#888">10<tspan font-size="3.4" dy="-1.6">4</tspan></text>
<path d="M161.3 24.5h2.4M161.3 45.5h2.4M161.3 66.5h2.4M161.3 87h2.4M161.3 106.5h2.4" stroke="#444" stroke-width="2.6"/>
<path d="M161.3 42.3h2M161.3 63.3h2M161.3 83.8h2M161.3 103.3h2" stroke="#aaa" stroke-width="1.4"/>
<text x="173.8" y="39.9" font-size="13.2" font-weight="normal" text-anchor="start" fill="#000" >R2</text>
<text x="156.9" y="67.6" font-size="11.9" font-weight="normal" text-anchor="start" fill="#000" textLength="42.2" lengthAdjust="spacingAndGlyphs" transform="rotate(-90 156.9 67.6)">αβTCR</text>
<line x1="151.4" y1="88.3" x2="151.4" y2="126.2" stroke="#000" stroke-width="1.3"/>
<path d="M151.4 76.8L154.0 89.3L148.8 89.3Z" fill="#000"/>
<line x1="150.75" y1="125.6" x2="186.7" y2="125.6" stroke="#000" stroke-width="1.3"/>
<path d="M198.7 125.6L185.7 122.89999999999999L185.7 128.29999999999998Z" fill="#000"/>
<path d="M261.7 22.2V108.2H348.5" stroke="#777" stroke-width="1" fill="none" stroke-dasharray="0.8 1.4"/>
<path d="M330 58.5h1M285.5 58.5h1M289 88.5h1M300.5 71h1M291.5 98h1M286 60.5h1M268.5 40.5h1M314 43h1M315 94.5h1M300.5 77.5h1M302.5 96.5h1M294 52.5h1M337 63.5h1M278.5 88.5h1M275.5 73h1M340.5 84.5h1M287 94h1M290.5 53h1M296 46.5h1M324 95h1M324 68h1M336 90h1M281 104.5h1M330 47.5h1M268 57.5h1M341 104.5h1M329.5 63h1M336 98.5h1M295 80h1M285.5 80.5h1" stroke="#e6000a" stroke-opacity="0.3" stroke-width="1" fill="none"/>
<path d="M299 82h1M305 87h1M298.5 81.5h1M303 64.5h1M304 75h1M299.5 66.5h1M296.5 79h1M303.5 72.5h1M300.5 70h1M304.5 76.5h1M295.5 75.5h1M303.5 70h1M300.5 70h1M304 71.5h1M302 75.5h1M307.5 63h1M310 65h1M301 68.5h1M302.5 79.5h1M310 84.5h1M299.5 76.5h1M302.5 69.5h1M304 77h1M300.5 69.5h1M304.5 74h1M306 82h1M297.5 58h1M302 69.5h1M298.5 69h1M307 73h1M308.5 81h1M296 78.5h1M307 60.5h1M297.5 74h1M300 88.5h1M299 88.5h1M297 68h1M303 79h1M302.5 88h1M308.5 91h1M301.5 82h1M301 86.5h1M294 70h1M301.5 71h1M307.5 64h1M299 65.5h1M302 68h1M305.5 82.5h1M294.5 58h1M305 78h1M296.5 75h1M297.5 81.5h1M297.5 70h1M303.5 75.5h1M305.5 78.5h1M297 77h1M298 86.5h1M307.5 84h1M310 81.5h1M307 82.5h1M305 82h1M303 89.5h1M298 62.5h1M299.5 88h1M301 68.5h1M299 79h1M302 84.5h1M301 82.5h1M299 79.5h1M312.5 73.5h1M301.5 83h1M298.5 71.5h1M300 77h1M297 86.5h1M302.5 76.5h1M301.5 75h1M294 85.5h1M299 81.5h1M301.5 73.5h1M304 88.5h1M301.5 70.5h1M303.5 55.5h1M299 67h1M301 64h1M305 72.5h1M302.5 75h1M301 70h1M306.5 82h1M307.5 74h1M303 78h1M301 75h1M296.5 65.5h1M299 66h1M303.5 78h1M303.5 73h1M305.5 82.5h1M304 72.5h1M307.5 65.5h1M296.5 64.5h1M306.5 76h1M300 56.5h1M301 67h1M294.5 84h1M302 86h1M302 79.5h1M299.5 80h1M300.5 80h1M303 66.5h1M302 76.5h1M299.5 74h1M305.5 85h1M302.5 57h1M304.5 90h1M301 68.5h1M303 77h1M305 70h1M308 82.5h1M298.5 83.5h1M301.5 80.5h1M303.5 75.5h1" stroke="#e6000a" stroke-opacity="0.35" stroke-width="1" fill="none"/>
<path d="M327.5 60h1M320 61h1M323 64h1M326.5 54h1M331 62h1M331 65.5h1M327 65h1M315 70h1M338.5 65.5h1M321.5 65.5h1M323 70.5h1M322 56.5h1M319.5 58.5h1M330.5 62h1M327 60.5h1M334.5 62h1M327 70h1M327.5 59.5h1M323.5 68h1M328 58.5h1M333.5 55h1M310 57.5h1M312 61h1M325.5 61h1M321 57h1M331.5 52.5h1M330.5 63.5h1M324.5 64.5h1M314.5 67h1M329 67.5h1M311 63.5h1M324.5 50.5h1M323 62.5h1M319.5 64h1M329 60h1M322.5 66h1M318.5 64.5h1M334.5 62h1M328 62.5h1M331 54.5h1M313 58h1M321 67h1M334.5 65h1M334 60h1M321.5 54.5h1M333.5 65h1M325 55.5h1M318 64.5h1M325 67.5h1M326.5 58.5h1M317 62h1M336.5 72h1M320 64.5h1M320 63.5h1M305.5 59h1M312.5 69.5h1M322.5 64.5h1M325.5 55.5h1M329.5 67.5h1M326.5 65h1M333 65h1M324 54h1M319 58h1M330.5 69h1M325.5 67h1M308.5 63.5h1M317 67h1M334 68h1M331 68h1M338 59.5h1M336.5 60.5h1M316 65.5h1M331 64h1M321 65.5h1M324 74.5h1M328 64.5h1M322 65.5h1M337.5 59h1M323 53h1M325 70.5h1M317 60.5h1M320 61h1M320 60.5h1M317.5 63.5h1M332 66h1M312.5 69h1M330.5 68h1M319 59h1M330 71h1M318.5 63.5h1M328.5 60.5h1M327.5 59.5h1M334.5 54h1M327.5 59.5h1M325 57.5h1M304.5 70h1M330.5 64.5h1M325 64h1M323 63h1M335 59h1M319.5 71.5h1M322 63.5h1M324.5 65.5h1M330 63h1M318.5 57.5h1M326 71.5h1M313 62h1M328.5 59.5h1M327 62h1M331 70.5h1M323 64h1M328.5 63h1M325.5 51.5h1M326 57h1M322.5 64.5h1M329 60h1M322 61h1M318 70h1M337.5 61h1M336.5 66h1M317.5 66.5h1M330 63h1M315 59h1M309 62h1M323 56.5h1M316.5 68.5h1M314.5 65.5h1M326 68h1M314 62.5h1M334 61.5h1" stroke="#e6000a" stroke-opacity="0.3" stroke-width="1" fill="none"/>
<path d="M325 92h1M327 103.5h1M333.5 100h1M331.5 103.5h1M331 96h1M331 95.5h1M329.5 103h1M332.5 99h1M332.5 105.5h1M332 99.5h1M330 99.5h1M329.5 102.5h1M332.5 99.5h1M331.5 100.5h1M329.5 96h1M330.5 99h1M330 103.5h1M331.5 102.5h1M327.5 93.5h1M328 99.5h1M329.5 105h1M330 105.5h1M328 95.5h1M331.5 95h1M324.5 97.5h1M330 104h1M329 103h1M329 93h1M326 93h1M328.5 91.5h1M325 96.5h1M331.5 101.5h1M328 100.5h1M324 91.5h1M323.5 94h1M328 103h1M328.5 98.5h1M328.5 100h1M326 102h1M329 100.5h1M330.5 101.5h1M331 96h1M330.5 93.5h1M322.5 98h1M330 101h1M330 102.5h1M323.5 97h1M328 96h1M330 101.5h1M330 99.5h1M335.5 99.5h1M329 104h1M334 96h1M326 104.5h1M332 102.5h1M328 102h1M325 95h1M333.5 94.5h1M328.5 102h1M330 95h1M327 101.5h1M327.5 106h1M329 104h1M330 99.5h1M325 101.5h1M329 100.5h1M327.5 95.5h1M326 99h1M331.5 98h1M325.5 96h1M325.5 93h1M327.5 96.5h1M331.5 105h1M329 100.5h1M326.5 92.5h1M324 98h1M328.5 93.5h1M327.5 101h1M325.5 97.5h1M330.5 99.5h1M330 99.5h1M329 104.5h1M331.5 100.5h1M330.5 99h1M328.5 101h1M329.5 101h1M335 96h1M329.5 104.5h1M329.5 99.5h1M326.5 99.5h1M327 103.5h1M330.5 98.5h1M332.5 95.5h1M326.5 102.5h1M330 95h1M327 98.5h1M327 100.5h1M328.5 101.5h1M329 101h1M328 101h1M330 102.5h1M330 98h1M329 104.5h1M328 100h1M333.5 102h1M331 96h1M326.5 100.5h1M335 92.5h1M324 101.5h1M329.5 95.5h1M331.5 100h1M327.5 99h1M327.5 100.5h1M327 95h1M327 101h1M332 97h1M326 100.5h1M332 98h1M333.5 96.5h1M333 102h1M324 101.5h1M328.5 99h1M327 99.5h1M327 100h1M332 105h1M332 103h1M330 98.5h1M325.5 103.5h1M327.5 100h1M325 101h1M333 99h1M331.5 99h1M329.5 97.5h1M321.5 101h1M330.5 101.5h1M334 103h1M330.5 97h1M337.5 94.5h1M328 97.5h1M332 101h1M330.5 92.5h1M327.5 103.5h1M327.5 94.5h1M329.5 97h1M329 101h1M326 99.5h1M333 98.5h1M328.5 97.5h1M330 101.5h1M326.5 100h1M334 93h1M332 103h1M324.5 93h1M327.5 105h1M327 99.5h1M329.5 99h1M335 100.5h1M325.5 100.5h1M331 95.5h1M329.5 97h1M325 96h1M331.5 99h1M324 102.5h1M328 88h1M326 90.5h1M335 100.5h1M326.5 95h1M327 100.5h1M332.5 99.5h1M332.5 99h1M323 101h1M332 102h1M332.5 96h1M328 99.5h1M330 102h1M332 98h1M326 98h1M328.5 98h1M326.5 103h1M332 103.5h1M331.5 101.5h1M327.5 98h1M330 92.5h1M330 92h1M334.5 102h1M327 99.5h1M327.5 105.5h1M332.5 100h1M327.5 102h1M330 99.5h1M327.5 93.5h1M325 96.5h1M324.5 96h1M334.5 99.5h1M331 97.5h1M333 100h1M331.5 104h1M326.5 98.5h1M330.5 99.5h1M328 100.5h1M327.5 96.5h1M323.5 101.5h1M333 100h1M332.5 94.5h1M328.5 99h1M331 100h1M330.5 105.5h1M326 99h1M330 97h1M330 92.5h1M326 98.5h1M334.5 104.5h1M331.5 103h1M328 98.5h1M323 103h1M328.5 92h1M326.5 101.5h1M324 97.5h1M322.5 97.5h1M329 90h1M326.5 101h1M328 105h1M331.5 104h1M325.5 95.5h1M330 101.5h1M327.5 98.5h1M326 97.5h1M330 105h1M330.5 103h1M329 101.5h1M332 96h1M332 102h1M332 101h1M327 98h1M329 89.5h1M326.5 97h1M327.5 95.5h1M326 98.5h1M327 104.5h1M329 99h1M331.5 99h1M329 104h1M331.5 98.5h1M325 97h1M330.5 93h1M328 99h1M324.5 104h1M328 93.5h1M326 101h1M333 100.5h1M329.5 98.5h1" stroke="#e6000a" stroke-opacity="0.5" stroke-width="1" fill="none"/>
<path d="M326.5 78.5h1M331.5 85h1M332.5 79.5h1M326.5 73.5h1M327.5 72h1M327 93h1M322 93h1M319.5 82.5h1M325.5 83.5h1M333 73.5h1M332 76.5h1M325.5 81h1M315 78h1M325.5 84.5h1M322 79.5h1M319.5 77.5h1M327 89h1M319.5 79.5h1M329 89.5h1M325 79h1M321.5 80h1M317 77.5h1M330.5 78.5h1M319.5 80.5h1M326.5 79h1M325.5 81h1M331 77.5h1M318.5 79h1M331.5 75h1M317 76h1M332 81h1M322 72h1M316 74.5h1M330 75h1M327.5 77.5h1M322 75h1M329.5 76h1M321 79h1M326.5 82.5h1M328.5 80h1M332.5 75.5h1M330 81h1M320.5 84.5h1M325.5 82.5h1M313.5 74.5h1M324.5 90h1M329 89h1M325.5 89h1M327.5 87.5h1M323 72.5h1M318.5 80h1M330 80.5h1M333 84h1M316 81.5h1M328.5 74.5h1M317.5 74.5h1M327.5 75h1M322.5 79h1M324 89h1M324.5 79h1M329 80h1M332 82.5h1M326.5 91.5h1M316 77.5h1M330.5 75.5h1M332 95h1M325.5 75.5h1M324.5 88.5h1M330 81h1M322 80.5h1M322.5 76h1M326 84.5h1M328.5 80.5h1M324 89.5h1M325 78h1M318 77h1M325.5 80.5h1M333 73.5h1M323.5 88.5h1M331 82.5h1M323.5 77.5h1M318 75.5h1M320 75h1M330.5 88.5h1M321.5 74h1M332 86h1M328 82h1M331.5 90.5h1M328 89.5h1M329.5 93.5h1M327.5 92.5h1M326 83h1M329 90h1M322.5 86.5h1M315.5 78h1M321 81h1M323.5 75h1M329.5 77h1M326 89h1M331.5 80.5h1M331 93.5h1M316.5 73.5h1M324.5 89.5h1M331.5 83.5h1M322 79.5h1M314.5 70.5h1M331 73.5h1M324 83.5h1M319.5 77.5h1M320.5 81.5h1M330 93h1M331.5 79h1M332 84.5h1M321.5 85h1M322.5 74.5h1M333 77h1M333.5 82.5h1M330 95h1M328 89h1M325 75.5h1M319.5 74.5h1M326 72h1M323.5 89.5h1M329 91h1M333.5 74h1M316.5 79h1M331 78.5h1M327.5 98.5h1M327.5 84.5h1M330.5 77.5h1M327.5 86.5h1M327.5 80.5h1M326.5 82h1M322.5 83.5h1M328 80h1M316.5 71h1M331 79.5h1M315 77h1M315.5 76h1M321.5 76h1M332 80h1M326.5 73.5h1M334 76h1M327 94.5h1M329.5 76.5h1M323.5 86.5h1M320 79.5h1M318 73.5h1M325 78.5h1M331 90.5h1M329 87.5h1M327.5 82.5h1M329 74h1M329 93h1M322.5 77.5h1M322.5 88.5h1M325.5 84.5h1M324 81.5h1M323.5 84h1M318 79h1M329 95h1M324 83.5h1M325.5 78h1M326.5 91.5h1M320.5 86h1M329 80.5h1M322.5 82.5h1M323 75.5h1M333.5 76h1M331 75h1M326.5 86h1M325 92.5h1M325.5 88.5h1M321.5 80h1M331.5 75.5h1M322 81h1M328.5 81.5h1M325 76h1M331.5 77h1M322 88h1M330 94.5h1M318.5 81.5h1M324.5 89.5h1M322.5 72.5h1M324 78.5h1M322 81h1M322 76h1M331 88.5h1M328 76h1M317.5 71.5h1M330 79.5h1M321 75h1M318.5 74.5h1M321.5 82.5h1M322.5 82h1M330 83.5h1M329.5 72h1M328 80.5h1M329 90.5h1M323 75h1M328.5 92.5h1M320.5 77.5h1M331.5 76.5h1M313.5 76h1M321.5 76.5h1M325 87.5h1M330 74.5h1M332 77.5h1M320.5 87h1M330.5 91.5h1M326.5 85h1M318.5 76h1M325 78h1M327 84.5h1M325.5 90h1M323.5 74.5h1M326.5 80h1M328.5 86.5h1M319.5 77.5h1M324.5 72h1M322 74h1M325.5 87.5h1M322.5 83h1M331 78.5h1M324.5 86.5h1M331 81h1M327.5 85.5h1M328 81h1M317 81h1M321.5 72h1M327 84h1M318.5 79.5h1M329.5 80.5h1M328 76.5h1M332 83h1M319 77h1M317 76.5h1M329 81.5h1M318.5 71h1M332.5 88h1M317.5 79.5h1M322.5 76h1M321.5 86.5h1M317.5 87.5h1M322.5 70.5h1M331.5 83.5h1M332 92h1M320.5 86h1M320.5 84.5h1M335.5 77h1M319.5 80.5h1M321.5 88h1M329.5 83h1M322.5 73h1M329.5 86.5h1M332 84h1M321 76h1M323.5 82h1M322 79.5h1M324.5 95h1M320 77.5h1M333 74h1M323.5 75.5h1M332.5 81.5h1M325 92h1M327.5 79.5h1M325.5 75h1M333 87.5h1M326.5 83h1M315.5 79.5h1M324 77h1M323 78.5h1M316.5 82h1M326.5 79.5h1M330 91h1M326.5 88h1M325.5 92h1M318.5 77.5h1M313.5 74h1M320.5 85.5h1M320 75.5h1M331 73.5h1M323 79h1M330.5 72h1M330.5 88.5h1M325 86h1M319 81.5h1M329 88.5h1M320.5 87h1M333.5 81h1M328 78h1M333.5 84h1M329 92.5h1M319 81h1M329 88.5h1M318 77.5h1M325.5 87.5h1M322 74.5h1M331.5 72.5h1M324 74h1M328 86.5h1M324.5 81h1M327.5 93.5h1M323 88.5h1M326.5 92.5h1M333 81.5h1M323 78h1M328 78h1M319.5 80h1M327.5 83h1M317 72.5h1M321 77.5h1M325 76.5h1M325.5 82.5h1M327.5 88.5h1M323 73.5h1M322 85h1M323 86h1M325.5 87.5h1M324 81h1M329.5 90h1M329.5 75.5h1M322.5 85h1M330.5 78h1M333 84.5h1M321 82.5h1M331 77h1M324.5 92.5h1M324 79h1M330.5 81h1M324 74h1M324 77h1M330.5 94h1M328.5 75h1M330.5 82h1M332 77.5h1M325.5 83.5h1M332 82h1M328.5 91h1M325 81h1M331 85h1M318 78h1M326.5 81.5h1M321 81h1M326 92h1M319 74h1M327.5 74h1M317.5 83h1M317 78h1M313.5 75h1M323.5 89h1M330.5 78h1M319 85h1M323.5 91h1M330 85.5h1M332.5 81h1M329 72.5h1M320 87h1M324 78.5h1M328 78h1M326 80h1M323 85.5h1M329.5 93.5h1M333 75.5h1M328 79h1M325.5 75.5h1M325.5 92.5h1M320 76h1M328 84.5h1M318.5 83h1M326 76h1M318.5 81h1M329 87.5h1M333 78.5h1M321 76.5h1M318 77.5h1M317 81h1M323 73.5h1M329.5 75.5h1M322.5 84.5h1M325 84h1M322 88.5h1M329 85.5h1M323 77h1M321.5 84.5h1M330 85h1M328.5 87.5h1M329 83.5h1M331.5 71.5h1M325 88h1M316.5 83h1M330.5 84h1M319 79h1M326 80h1M329 88h1M332 88.5h1M323.5 71.5h1M326 87h1M326 86.5h1M326 77h1M322.5 73.5h1M326.5 90.5h1M327.5 82.5h1M324.5 75.5h1M331.5 89h1M325.5 88.5h1M317 75h1M323.5 89h1M319.5 86h1M330 77.5h1M321.5 83h1M320 77h1M327 90.5h1M329 92h1M328.5 72.5h1M320 80.5h1M322 80.5h1M319.5 84.5h1M331.5 72h1M328 78.5h1M334.5 81h1M328.5 76h1M316 74h1M329.5 90h1M330.5 78h1M328 93h1M317 71h1M322.5 72.5h1M319 86h1M328.5 70.5h1M320 81h1M333.5 78h1M320 83h1M319 85.5h1M321.5 81.5h1M330 80.5h1M328 83h1M319 79.5h1M325.5 91.5h1M327 87.5h1M333.5 78.5h1M320.5 83h1M327.5 90h1M316.5 77.5h1M324 75.5h1M323.5 72.5h1M329 73h1M318 79h1M330.5 84h1M321 73.5h1M320.5 76.5h1M317.5 78.5h1M319.5 81.5h1M333 73.5h1M326.5 84.5h1M323.5 87h1M318.5 74.5h1M320.5 79.5h1M329 80h1M327 93h1M327 82.5h1M324 77.5h1M330.5 74h1M320.5 88.5h1M326 91.5h1M319 83.5h1M322 83h1M327.5 89h1M329.5 82.5h1M326.5 78.5h1M325 75h1M325 81.5h1M326.5 84.5h1M328.5 87h1M323 73.5h1M320 73.5h1M326 81h1M325 78h1M331.5 91h1M327.5 80h1M320 75.5h1M319.5 75h1M317 79.5h1M332 77h1M329.5 81.5h1M324 90h1M326 92.5h1M326 78h1M324 77.5h1M316 83h1M310 76.5h1M321.5 83.5h1M318 76.5h1M327.5 85h1M331 86h1M324.5 88h1M331 83.5h1M320 75h1M335 74h1M324 87.5h1M323 79h1M328 75h1M328.5 79.5h1M316.5 81h1M322 84.5h1M330 70.5h1M334.5 80h1M322 84h1M315 73h1M331 76.5h1M324 82h1M325.5 85h1M332.5 77h1M326 89h1M326 77.5h1M317.5 75h1M322.5 73h1M329.5 71.5h1M330.5 86h1M321.5 82.5h1M330.5 90.5h1M330.5 83.5h1M333 77.5h1M329.5 74.5h1M325 87.5h1M331 88.5h1M315.5 84h1M323.5 80h1M319 79.5h1M312.5 73.5h1M320.5 76.5h1M330 93h1M327.5 81.5h1M329 79h1M328.5 90h1M321 77.5h1M326.5 75.5h1M327 79.5h1M324 86h1M316 79h1M331 85h1M326.5 74.5h1M314 81.5h1M322.5 87h1M328.5 89.5h1M328 86.5h1M329 82h1M320.5 77.5h1M316.5 78h1M321.5 83h1M326 77h1M329 85h1M330.5 82h1M320.5 82h1M325 88.5h1M322.5 91.5h1M324 85h1M320.5 77h1M321 87h1M331 79h1M323 89.5h1M329 77.5h1M321.5 86h1M323.5 75h1M332 89h1M329 80.5h1M324 80.5h1M329 74.5h1M328 75h1M317.5 80.5h1M322.5 80h1M317.5 83.5h1M326 92h1M330.5 73.5h1M324 88h1M326 89.5h1M326 77h1M328.5 80.5h1M325.5 90h1M327.5 90.5h1M333 88.5h1M320 73.5h1M328 85h1M326.5 81h1M320 79.5h1M326.5 88.5h1M327.5 75.5h1M333.5 82h1M329 90h1M325.5 77.5h1M328.5 95h1M322.5 77h1M329 76.5h1M328.5 89.5h1M326 96h1M324.5 78.5h1M326.5 83.5h1M327 80h1M325 91.5h1M323.5 80h1" stroke="#e6000a" stroke-opacity="0.5" stroke-width="1" fill="none"/>
<polygon points="315.5,73 324,72.6 332,73 333,78 331.5,86 330,93 328,97 325.5,93 320,86.5 316,80.5 314.5,76" fill="#e6000a" fill-opacity="1.0" filter="url(#b)"/>
<rect x="262.9" y="22.2" width="85.60000000000002" height="84.8" fill="none" stroke="#333" stroke-width="1.0"/>
<line x1="306" y1="22.2" x2="306" y2="107" stroke="#333" stroke-width="1.0"/>
<line x1="262.9" y1="71.5" x2="348.5" y2="71.5" stroke="#333" stroke-width="1.0"/>
<text x="259.7" y="112.6" font-size="4.6" fill="#888">10<tspan font-size="3.4" dy="-1.6">0</tspan></text>
<text x="281.1" y="112.6" font-size="4.6" fill="#888">10<tspan font-size="3.4" dy="-1.6">1</tspan></text>
<text x="302.5" y="112.6" font-size="4.6" fill="#888">10<tspan font-size="3.4" dy="-1.6">2</tspan></text>
<text x="323.9" y="112.6" font-size="4.6" fill="#888">10<tspan font-size="3.4" dy="-1.6">3</tspan></text>
<text x="345.3" y="112.6" font-size="4.6" fill="#888">10<tspan font-size="3.4" dy="-1.6">4</tspan></text>
<path d="M258.29999999999995 24.5h2.4M258.29999999999995 45.5h2.4M258.29999999999995 66.5h2.4M258.29999999999995 87h2.4M258.29999999999995 106.5h2.4" stroke="#444" stroke-width="2.6"/>
<path d="M258.29999999999995 42.3h2M258.29999999999995 63.3h2M258.29999999999995 83.8h2M258.29999999999995 103.3h2" stroke="#aaa" stroke-width="1.4"/>
<text x="270.5" y="37.9" font-size="13" font-weight="normal" text-anchor="start" fill="#000" >R1</text>
<text x="243.8" y="129.8" font-size="13.6" font-weight="normal" text-anchor="start" fill="#000" >CD3</text>
<path d="M380.6 22.2V108.4H469.2" stroke="#777" stroke-width="1" fill="none" stroke-dasharray="0.8 1.4"/>
<path d="M424 52.5h1M440 41h1M427 88h1M403.5 50.5h1M431 48.5h1M428.5 49h1M393.5 93h1M386.5 90.5h1M408.5 96.5h1M385 48h1M434 83h1M425 63h1M436.5 52h1M408.5 89.5h1M451.5 88h1M452.5 85h1M421.5 70.5h1M435.5 83h1M435 51.5h1M438 102h1M435 90.5h1M410 65h1M417.5 57.5h1M393.5 60.5h1M449 98h1M397 67.5h1M434.5 99h1M400 81h1M418.5 55h1M462 58.5h1" stroke="#e6000a" stroke-opacity="0.3" stroke-width="1" fill="none"/>
<path d="M433.5 86.5h1M421 80h1M427.5 81h1M412.5 74.5h1M443 81.5h1M425 85h1M427.5 88.5h1M425.5 81h1M423 83.5h1M437.5 95.5h1M430.5 95.5h1M420.5 78.5h1M407 89.5h1M428 75.5h1M429 81.5h1M426.5 90.5h1M429.5 83.5h1M421.5 90.5h1M416 86h1M432 93.5h1M413 87.5h1M423 82.5h1M432 85.5h1M404 88.5h1M416.5 87.5h1M420.5 79h1M425 87.5h1M417.5 92.5h1M420.5 86.5h1M438.5 81h1M427 88.5h1M431.5 90.5h1M426 84.5h1M426.5 81h1M411 86h1M425 102h1M421.5 75.5h1M420 80h1M429 80.5h1M429 80h1M421 85h1M425.5 74.5h1M428.5 82.5h1M440 82.5h1M427.5 77.5h1M429 80h1M426 89.5h1M414.5 69.5h1M422.5 84.5h1M429 92.5h1M421.5 81.5h1M417 87h1M433.5 83.5h1M432 80h1M421 93h1M434.5 84.5h1M417 85.5h1M415.5 87.5h1M421.5 77.5h1M424 100.5h1M429 87.5h1M415.5 88h1M412.5 79.5h1M426.5 98.5h1M419 87.5h1M422.5 71h1M429.5 100.5h1M431 78.5h1M424 87.5h1M417 85h1M420 84h1M421.5 84h1M427.5 79h1M437 76.5h1M429 97.5h1M436.5 83h1M429 78h1M428 77.5h1M434 86.5h1M420 89.5h1M420.5 85.5h1M418.5 80h1M432 97h1M438.5 91.5h1M426.5 90h1M424.5 83.5h1M423.5 90.5h1M427.5 74.5h1M427.5 93h1M429.5 80h1M425.5 84h1M432 88h1M423 90.5h1M410.5 71h1M431 71h1M437 86h1M426 92.5h1M441 84.5h1M428.5 77.5h1M415 75.5h1M435.5 81.5h1M437.5 76h1M418 85h1M433 78h1M421 79h1M439.5 86.5h1M428.5 79h1M423.5 78.5h1M443 83h1M408.5 75h1M406.5 74.5h1M410 91.5h1M422 75h1M440.5 80.5h1M438.5 82h1M425 88h1M437.5 83.5h1M437.5 78h1M442.5 86.5h1M426 82.5h1M427 88h1M426.5 74h1M440.5 79.5h1M418 77h1M430.5 78.5h1M422.5 95h1M432 84h1M417 83.5h1M429 77h1M419 88h1M422.5 94h1M414 80h1M418.5 86h1M419.5 90.5h1M439.5 83.5h1M428.5 80h1M434 78h1M424 87h1M417 89h1M423.5 86h1M422 75.5h1M430.5 85h1M426 81.5h1M429 81h1M426.5 95h1M422 87h1M421.5 86h1M423 89.5h1M420 81.5h1M437.5 85h1M439 82.5h1M416.5 83.5h1M428 82.5h1M414 72h1M439 78.5h1M428.5 90.5h1M432 62h1M412 74.5h1M429.5 80h1M414.5 88h1M430.5 84h1M414 86h1M417.5 82.5h1M426.5 85h1M423 83h1M430 84.5h1M405 78h1M424.5 91h1M420.5 79.5h1M428 76h1" stroke="#e6000a" stroke-opacity="0.35" stroke-width="1" fill="none"/>
<path d="M402 78.5h1M399 86.5h1M400.5 92.5h1M396 77.5h1M398 100.5h1M405.5 76h1M389 82.5h1M388 73.5h1M405.5 92h1M404.5 97h1M384 85h1M393.5 92h1M391 87.5h1M404 92h1M409 96h1M399 72h1M401 96h1M406 68h1M391.5 89h1M402 85h1M399 78h1M401.5 98h1M398.5 70.5h1M393 88h1M402 78h1M392 85.5h1M400 85.5h1M398 84h1M393 69h1M389.5 81h1M403.5 77h1M412.5 83h1M392.5 90h1M406.5 96h1M404 88.5h1M395.5 85.5h1M400.5 78.5h1M401 69.5h1M393.5 80.5h1M398.5 87.5h1M400.5 86.5h1M388 101.5h1M394.5 94h1M400 85h1M396.5 83.5h1M387 81h1M413.5 89.5h1M394 80.5h1M394.5 82.5h1M407 88h1M394 66.5h1M409.5 93h1M397.5 87h1M395 78.5h1M415 65h1M396 87.5h1M401.5 84.5h1M396.5 86.5h1M390.5 75h1M402 78h1M403 93h1M408 93.5h1M391 84.5h1M398 92.5h1M396 95h1M399 94.5h1M399 85h1M390.5 81h1M409 96.5h1M410 78.5h1M403.5 91.5h1M399 82.5h1M388.5 83h1M402 87.5h1M390.5 102.5h1M390.5 79h1M401.5 80h1M394 79.5h1M397 103h1M396 79.5h1M390 85.5h1M402 77h1M395 87h1M394 77.5h1M403 94h1M395.5 67.5h1M401 71.5h1M411 86h1M402.5 86h1M405 89.5h1M401 85.5h1M387 89h1M396 86h1M404.5 77h1M392.5 90.5h1M393 80h1M395 89h1M396 85.5h1M407.5 88h1M401.5 83.5h1M395 72h1M396.5 92.5h1M411 79.5h1M398 88h1M400 80.5h1M393 81h1M396.5 78h1" stroke="#e6000a" stroke-opacity="0.3" stroke-width="1" fill="none"/>
<path d="M421 56.5h1M413 61.5h1M419.5 62h1M425 52.5h1M418.5 53.5h1M421 53h1M406.5 66h1M414.5 57h1M421.5 64h1M420.5 58h1M429.5 58.5h1M415.5 61h1M416.5 61.5h1M415 62h1M411.5 60.5h1M423 60.5h1M419.5 71h1M420 56h1M420 66.5h1M417.5 51.5h1M418 53.5h1M418.5 52h1M427.5 59.5h1M423 60h1M423.5 58.5h1M417.5 55h1M416.5 64h1M424.5 57h1M412 64h1M415 56h1M418.5 64.5h1M421.5 58.5h1M412.5 60h1M425.5 60.5h1M423 60.5h1M418.5 60.5h1M420 72h1M421 59.5h1M420 61h1M421.5 64h1M424 61.5h1M410 64h1M421.5 67h1M408 64h1M408.5 60.5h1M418.5 64.5h1M409.5 63.5h1M411.5 57.5h1M416.5 62.5h1M417.5 60.5h1M416.5 57.5h1M416 62h1M416.5 55h1M423 62h1M428 59.5h1M424 57h1M425 67.5h1M427 51h1M414 50h1M425 66h1M418 55.5h1M416.5 55.5h1M417 56h1M423.5 70h1M419 64h1M427.5 67h1M419 62.5h1M426.5 65.5h1M427 56.5h1M420 64.5h1" stroke="#e6000a" stroke-opacity="0.3" stroke-width="1" fill="none"/>
<path d="M400 62h1M400 61h1M400 62h1M389 59h1M402 54h1M388.5 63.5h1M391.5 55h1M393.5 65.5h1M399.5 52.5h1M401 58h1M402.5 60.5h1M399 55h1M398.5 61h1M407 60h1M389.5 49.5h1M399 63h1M405.5 52.5h1M401.5 61h1M383 57.5h1M389.5 64h1M387 62.5h1M392 62.5h1M396.5 55h1M403 57h1M389 62.5h1M393.5 54h1M405.5 62h1M387 59h1M387.5 60h1M392.5 57h1M404.5 58.5h1M387 58.5h1M400 52h1M389 63h1M402.5 60.5h1M399 63.5h1M398.5 56h1M392.5 60h1M396 56h1M395.5 60.5h1M395.5 56.5h1M408.5 56.5h1M390.5 58.5h1M390 59.5h1M399.5 55h1M394.5 56.5h1M388.5 66.5h1M393 55h1M397.5 66h1M397.5 54.5h1M393.5 62.5h1M397 58.5h1M389.5 60.5h1M399 64h1M388 65h1M383 60h1M397.5 65h1M401 57.5h1M393.5 55h1M403.5 63h1M390.5 55h1M388 56h1M389.5 55.5h1M399.5 63h1M396.5 60h1M390.5 58.5h1M401.5 60h1M401 62h1M397.5 58h1M384.5 64h1M407.5 63.5h1M384 61h1M392.5 66.5h1M395 62h1M389 63h1M399 65h1M404 53.5h1M386.5 59.5h1M392 56.5h1M400.5 65h1M386.5 57h1M401 53.5h1M392.5 64h1M389 58.5h1M404 58h1M390 69.5h1M405 58h1M401.5 56h1M394.5 65h1M395 62.5h1M399.5 68h1M395.5 63h1M397 58h1M388 54h1M393.5 60.5h1M395 66.5h1M388 59.5h1M392.5 59h1M388.5 56h1M405.5 61h1M397 58h1M395 52h1M396.5 58.5h1M388 62.5h1M397.5 57.5h1M401 53h1M401.5 52h1M396.5 58h1M389 57.5h1M404 61h1M402 64h1M383.5 54.5h1M383 52.5h1M390 61h1M405.5 62.5h1M401 62h1M383 55h1M398.5 58.5h1M399 56h1M392.5 56.5h1M402 56h1M408.5 64h1M388 63h1M394.5 55.5h1M387.5 59.5h1M388 61h1M401 61.5h1M399 58h1M402 64h1M385.5 58.5h1M401.5 62.5h1M382.5 55.5h1M388 58h1M395.5 58h1M400 53.5h1M403.5 57.5h1M386.5 57.5h1M402.5 59.5h1M394.5 57.5h1M396 63.5h1M384 62h1M401 58h1M397 67.5h1M389 54.5h1M386 54.5h1M395.5 68.5h1M408 55h1M386 61.5h1M400.5 58.5h1M392.5 52h1M388 56.5h1M396.5 52h1M397 52.5h1M392.5 61.5h1M388 64h1M398 64h1M393.5 61h1M397.5 57h1M388.5 57.5h1M394 53.5h1M402 55.5h1M384 61h1M393.5 60h1M393.5 60.5h1M384.5 57.5h1M397 66h1M405.5 52h1M384 57h1M389.5 55h1M384.5 61.5h1M392 57.5h1M386.5 57.5h1M393 65h1M402.5 59h1M400.5 61h1M397.5 55h1M396 62.5h1M405.5 57h1M384.5 54.5h1M406.5 55h1M394 65h1M402 59.5h1M398 62h1M400 57h1M401 59.5h1M389 55h1M396 66h1M390.5 56.5h1M386.5 61h1M398 51h1M384 60.5h1M389 62h1M392.5 63h1M404.5 60h1M399 64.5h1M387 51.5h1M387.5 50.5h1M403 51h1M388 56h1M404 61.5h1M399.5 64.5h1M387.5 55.5h1M387.5 61h1M386 57.5h1M395 64.5h1M386 58.5h1M385 62h1M386.5 61.5h1M396.5 61h1M391.5 54h1M400 58h1M392 61.5h1M397 55.5h1M401.5 69h1M398 64.5h1M403 57h1M396.5 56.5h1M383.5 57.5h1M387 55h1M402.5 59h1M395 57h1M385 56.5h1M392 63h1M395 61.5h1M384.5 62.5h1M399.5 56h1M386 63h1M394.5 57.5h1M399.5 55h1M389.5 59.5h1M386 56h1M400.5 65h1M404.5 59.5h1M401 57h1M392.5 60.5h1M383.5 54h1M391.5 57.5h1M391 54h1M387.5 63h1M392.5 66h1M390 67h1M395.5 61.5h1M400.5 58.5h1M392.5 62.5h1M390 55.5h1M394 55h1M389.5 55h1M404 58h1M403.5 55h1M389 52.5h1M397 63h1M398 53.5h1M383 58h1M385.5 57h1M398.5 56.5h1M404 62.5h1M392.5 63h1M390.5 48.5h1M396.5 59.5h1M397.5 61.5h1M397.5 52h1M401 52.5h1M398.5 57h1M405.5 54h1M385.5 58h1M403.5 54.5h1M389.5 60.5h1M400 65h1M402 63h1M392 59h1M387.5 57.5h1M403 55.5h1M402 51.5h1M402 58.5h1M394 62h1M392 58.5h1M383 57h1M391.5 52.5h1M395.5 59.5h1M395 68h1M401.5 61.5h1M394.5 57.5h1M384 55.5h1M388 56h1M395 59.5h1M399.5 54.5h1M404 53.5h1M401 56h1M398 56h1M395.5 63.5h1M385.5 60.5h1M396 60.5h1M403.5 57h1M385 63.5h1M405 60.5h1M391.5 56.5h1M393.5 60h1M383.5 58h1M400 54.5h1M383 60h1M390 64.5h1M399.5 51.5h1M385 58h1M401 57h1M397.5 62.5h1M386.5 62h1M389.5 57h1M402 56h1M402 60.5h1M391.5 52.5h1M402 65h1M391.5 62h1M383 52.5h1M406.5 54.5h1M402.5 59.5h1M392 69h1M400 63h1M396.5 65.5h1M393 66h1M387.5 61h1M405.5 62h1M392.5 62h1M405 59.5h1M401.5 57.5h1M392.5 57h1M385.5 52.5h1M394 64.5h1M402.5 56.5h1M397.5 52h1M385 62.5h1M401 61h1M406 58.5h1M405 55h1M397.5 59h1M396.5 60.5h1M398 57.5h1M391.5 64h1M387 62.5h1M398.5 63.5h1M390 54.5h1M394.5 59.5h1M383.5 56h1M391 53.5h1M389 60h1M399 61h1M401.5 58h1M402.5 56h1M403 53.5h1M390.5 62.5h1M391.5 52h1M391 51.5h1M401 66h1M399 65h1M395.5 59h1M398 54.5h1M394 56.5h1M401.5 62h1M390 56h1M387 63h1M400 53.5h1M395 57.5h1M408 57.5h1M391.5 65h1M400.5 61.5h1M402.5 54.5h1M404 53h1M407.5 55h1M396.5 63h1M400 62.5h1M385.5 59.5h1M397.5 65h1M389 62.5h1M390.5 55h1M400 61h1M388.5 57h1M402 56.5h1M406.5 60.5h1M403.5 52h1M402 60.5h1M389 54h1M399 56.5h1M386 65h1M385 60.5h1M400 53h1M391.5 53.5h1M392.5 61h1M395 58.5h1M393 63.5h1M387.5 55h1M387.5 53h1M393 55h1M391 62.5h1M402 50h1M397 53h1M400 65.5h1M392 57.5h1M403 57.5h1M386.5 52h1M390.5 59h1M392 55.5h1M395.5 53.5h1M384.5 60.5h1M392.5 53.5h1M392 62h1M388 64h1M389.5 61h1M393.5 59h1M389.5 56.5h1M392 59h1M394 64h1M389.5 59h1M386.5 65.5h1M400 60h1M390 55.5h1M393.5 62.5h1M386 52.5h1M389.5 56h1M394.5 65h1M387.5 61h1M394 67h1M400 64.5h1M397 54.5h1M386 64.5h1M401.5 65.5h1M400 62h1M387 62.5h1M385 58.5h1M394.5 57.5h1M397.5 59.5h1M402 59h1M399.5 61.5h1M390 64h1M397 54h1M387 60h1M404.5 56h1M384.5 57.5h1M398 61.5h1M401.5 57h1M393.5 57.5h1M394.5 65.5h1M384.5 66.5h1M398 57h1M396 56.5h1M386 65h1M394.5 52h1M398 53.5h1M390.5 55.5h1M386 56h1M394 58h1M397.5 63h1M389.5 59h1M401 50h1M400 59.5h1M401.5 53.5h1M391.5 62.5h1M393.5 53.5h1M389.5 62h1M396.5 56.5h1M393.5 55h1M388 62h1M393 63h1M397.5 60h1M384.5 57h1M404.5 55h1M399.5 64.5h1M390.5 64.5h1M394.5 54.5h1M387 59.5h1M386.5 54h1M403 53h1M389.5 59h1M390.5 60.5h1M402 60h1M390 60h1M394 65.5h1M389 57h1M393 56.5h1M389 56.5h1M383 56.5h1M403.5 52h1M390 59.5h1M396.5 58.5h1M392 66h1M393.5 60h1M399 59h1M405 54.5h1M398 59.5h1M384 61h1M405.5 58.5h1M397 55.5h1M393 56h1M399.5 61h1M393 61h1M388 57h1M392 61.5h1M386.5 54.5h1M388.5 53.5h1M402.5 58h1M390.5 56.5h1M398.5 61.5h1M386.5 57.5h1M386 65h1M404 60.5h1M392 62.5h1M390 54.5h1M388.5 57.5h1M395.5 53.5h1M389.5 56h1M390.5 58h1M396 58h1M395 62h1M386 54.5h1M391.5 66h1M395.5 59.5h1M393 57h1M387.5 59h1M388.5 55.5h1M396.5 60.5h1M386 51h1M404.5 56.5h1M391.5 57h1M393.5 57h1M387 53.5h1M395.5 53h1M405.5 60.5h1M395.5 61.5h1M393.5 61h1M392 54h1M401.5 56.5h1M392.5 64.5h1M386.5 57.5h1M401.5 61.5h1M398 59h1M396.5 56.5h1M399 63h1M397.5 61.5h1M393 53h1M405 58h1M385 61.5h1M393.5 59h1M397.5 58.5h1M392 59.5h1M401.5 61h1" stroke="#e6000a" stroke-opacity="0.5" stroke-width="1" fill="none"/>
<polygon points="382.5,54.5 388,52.6 400,52 405,53.3 406.3,57 405.6,62.5 401.5,65.2 395,66.2 388,64.8 383,63" fill="#e6000a" fill-opacity="1.0" filter="url(#b)"/>
<rect x="381.8" y="22.2" width="87.39999999999998" height="85.0" fill="none" stroke="#333" stroke-width="1.0"/>
<line x1="410.3" y1="22.2" x2="410.3" y2="107.2" stroke="#333" stroke-width="1.0"/>
<line x1="381.8" y1="71" x2="469.2" y2="71" stroke="#333" stroke-width="1.0"/>
<text x="378.6" y="112.8" font-size="4.6" fill="#888">10<tspan font-size="3.4" dy="-1.6">0</tspan></text>
<text x="400.4" y="112.8" font-size="4.6" fill="#888">10<tspan font-size="3.4" dy="-1.6">1</tspan></text>
<text x="422.3" y="112.8" font-size="4.6" fill="#888">10<tspan font-size="3.4" dy="-1.6">2</tspan></text>
<text x="444.2" y="112.8" font-size="4.6" fill="#888">10<tspan font-size="3.4" dy="-1.6">3</tspan></text>
<text x="466.0" y="112.8" font-size="4.6" fill="#888">10<tspan font-size="3.4" dy="-1.6">4</tspan></text>
<path d="M377.2 24.5h2.4M377.2 45.5h2.4M377.2 66.5h2.4M377.2 87h2.4M377.2 106.5h2.4" stroke="#444" stroke-width="2.6"/>
<path d="M377.2 42.3h2M377.2 63.3h2M377.2 83.8h2M377.2 103.3h2" stroke="#aaa" stroke-width="1.4"/>
<text x="387.9" y="35.8" font-size="13" font-weight="normal" text-anchor="start" fill="#000" >R1</text>
<text x="371.2" y="75.9" font-size="11.9" font-weight="normal" text-anchor="start" fill="#000" textLength="40" lengthAdjust="spacingAndGlyphs" transform="rotate(-90 371.2 75.9)">γδTCR</text>
<line x1="363.3" y1="97.3" x2="363.3" y2="121.9" stroke="#000" stroke-width="1.3"/>
<path d="M363.3 85.8L365.90000000000003 98.3L360.7 98.3Z" fill="#000"/>
<line x1="362.65000000000003" y1="121.9" x2="386.2" y2="121.9" stroke="#000" stroke-width="1.3"/>
<path d="M398.2 121.9L385.2 119.2L385.2 124.60000000000001Z" fill="#000"/>
<text x="412.4" y="127.1" font-size="11.9" font-weight="normal" text-anchor="start" fill="#000" textLength="44" lengthAdjust="spacingAndGlyphs">αβTCR</text>
<path d="M46.8 167V253.39999999999998H148.2" stroke="#777" stroke-width="1" fill="none" stroke-dasharray="0.8 1.4"/>
<path d="M155.5 167V253.6H252.8" stroke="#777" stroke-width="1" fill="none" stroke-dasharray="0.8 1.4"/>
<path d="M261.5 167V253.2H358.5" stroke="#777" stroke-width="1" fill="none" stroke-dasharray="0.8 1.4"/>
<path d="M366.1 166.8V253.2H460.6" stroke="#777" stroke-width="1" fill="none" stroke-dasharray="0.8 1.4"/>
<path d="M137 237.5h1M129 219h1M128 223h1M141 243h1M90 183h1M126.5 223h1M143 202.5h1M61.5 180.5h1M132.5 183.5h1M106 199.5h1M136 221h1M103 214h1M74 224h1M87 197.5h1M135 189h1M113.5 189h1M98.5 185.5h1M135.5 233h1M89.5 214.5h1M98 208h1M141 186.5h1M101 171.5h1M75 212h1M60.5 202.5h1M54.5 182h1" stroke="#e6000a" stroke-opacity="0.3" stroke-width="1" fill="none"/>
<path d="M98.5 180.5h1M97 203.5h1M95.5 183.5h1M96.5 180.5h1M95 191h1M92.5 193h1M93.5 173h1M100 173h1M93.5 188.5h1M95 195h1M95.5 182h1M95 183h1M97.5 181.5h1M98 187h1M94.5 190.5h1M90.5 187h1M94 179h1M91 187h1M101.5 185.5h1M95.5 172.5h1M99 188h1M94.5 193.5h1M96 177h1M96.5 182.5h1M99.5 179.5h1M96.5 181h1M95.5 177.5h1M94 172h1M94.5 186h1M96.5 185h1M98 175.5h1M94 177.5h1M90.5 177.5h1M89.5 180h1M96.5 186h1M90 198h1M97.5 175.5h1M91 185.5h1M95.5 178.5h1M94 184h1M96.5 196.5h1M92 177.5h1M95.5 182h1M86 185h1M100 192h1M99.5 185.5h1M97 170.5h1M91 177h1M87.5 185.5h1M93.5 184.5h1M95.5 187h1M97.5 178.5h1M92.5 173h1M95.5 177h1M90.5 180h1M95.5 187h1M92 172.5h1M94.5 183h1M93 187h1M92.5 187.5h1" stroke="#e6000a" stroke-opacity="0.35" stroke-width="1" fill="none"/>
<path d="M76 228h1M76 235h1M66.5 241.5h1M78.5 236.5h1M70 239h1M83.5 229.5h1M73.5 239h1M75.5 232.5h1M62 239.5h1M74 232.5h1M60.5 240.5h1M84 235h1M75 240.5h1M73 230h1M77 234.5h1M72.5 237.5h1M67.5 246.5h1M75 233h1M68 235.5h1M78.5 233h1M75.5 235.5h1M79 237h1M81.5 230.5h1M66 238h1M78.5 234h1M85.5 228.5h1M67 245.5h1M72.5 241h1M67.5 242.5h1M70.5 236.5h1M66.5 245h1M62.5 237h1M65 242.5h1M71.5 236.5h1M74.5 237h1M73 236.5h1M78.5 239.5h1M75 236.5h1M75 239h1M66 240h1M71 233h1M75.5 233h1M67 238.5h1M60.5 244.5h1M59.5 243h1M65.5 243.5h1M70 240.5h1M64 243.5h1M70 240h1M70.5 241h1M70 242.5h1M82.5 232.5h1M72.5 237.5h1M74.5 233.5h1M66.5 241h1M69 238.5h1M86.5 236h1M70 233h1M73 236.5h1M66.5 245h1M69 235.5h1M70.5 244h1M68 241.5h1M67.5 237.5h1M72 242.5h1M81.5 227.5h1M71 238h1M74 238h1M76 234h1M65 251h1M74.5 234.5h1M73.5 237h1M69.5 231h1M79 229.5h1M79 234h1M69 241h1M79.5 235h1M73.5 234h1M79 238h1M71 230h1M74.5 235h1M78 229h1M64.5 243.5h1M83 232h1M80.5 241h1M65.5 239.5h1M65 244.5h1M65 237.5h1M76 234h1M82.5 234h1M68.5 242h1M67 236.5h1M88 225.5h1M75 242.5h1M71 239h1M78.5 231h1M76 235.5h1M67.5 245.5h1M74.5 237h1M75.5 229.5h1M65.5 239.5h1M70.5 241.5h1M76 234h1M75 240.5h1M61 243h1M79.5 226h1M70.5 239h1M82.5 233h1M66 236.5h1M76.5 232.5h1M67.5 247h1M63 241h1M74 230.5h1M85.5 233h1M60.5 247.5h1M79 234.5h1M73.5 229.5h1M80 228.5h1M69 238.5h1M76.5 231.5h1M68.5 235h1M65.5 245.5h1M63.5 240h1M76 233h1M75 239h1M77 238.5h1M74.5 232.5h1M71.5 237.5h1M68 242h1M68.5 242h1M71 235.5h1M85.5 233.5h1M86 232.5h1M83 230.5h1M84.5 226.5h1M71.5 239h1M68.5 241h1M79.5 222.5h1M63.5 246h1M81 229.5h1M77.5 231h1M72.5 238.5h1M59 244h1M68.5 240.5h1M74.5 234h1M74.5 231h1M78.5 236.5h1M71 234h1M81.5 236.5h1M73.5 234h1M78 238.5h1M64.5 236h1M76.5 241h1M72 238.5h1M64.5 238h1M79.5 238h1M71 235.5h1M70 247h1M67 241h1M76.5 238h1M68 235h1M66.5 238h1M70 235.5h1M71.5 233h1M72.5 240.5h1M73 228h1M74 235.5h1M69.5 235.5h1M63.5 245.5h1M74.5 227h1M72 240.5h1M73.5 228.5h1M68.5 231.5h1M79.5 230h1M75 235h1M68.5 250.5h1M73.5 234.5h1M66 243h1M80.5 235.5h1M70.5 239.5h1M76.5 235h1M59.5 250h1M70 242h1M64.5 243.5h1M71.5 238h1M63.5 242h1M80.5 243.5h1M73.5 240.5h1M77.5 239h1M55.5 242h1M70.5 237h1M67.5 240h1M81 240.5h1M58.5 245.5h1M70.5 232.5h1M69 237.5h1M67.5 241.5h1M68.5 242h1M79 227h1" stroke="#e6000a" stroke-opacity="0.45" stroke-width="1" fill="none"/>
<path d="M91.5 230h1M86.5 236h1M92 231h1M94 222.5h1M89.5 233h1M80.5 243.5h1M89 229.5h1M91.5 239h1M90.5 235.5h1M90 221h1M85 230h1M96 226h1M94.5 226h1M88.5 242.5h1M91 216.5h1M96.5 226.5h1M94.5 244h1M96 235h1M96.5 231.5h1M94.5 231.5h1M91 239.5h1M90 223h1M91 234.5h1M89.5 238.5h1M90 219.5h1M85.5 228h1M84.5 230.5h1M91.5 221.5h1M92.5 227h1M82.5 236h1M88 236h1M94.5 223.5h1M88 247.5h1M95 232.5h1M91 238.5h1M93.5 228.5h1M92.5 222h1M94 231h1M88.5 244h1M92 227h1M89.5 237.5h1M85 242h1M92 239.5h1M88.5 226h1M94.5 234.5h1M89 233.5h1M89.5 242.5h1M89 237h1M84 245h1M91.5 233.5h1M89 231h1M94 222h1M97 234h1M97 227h1M85.5 224h1M89.5 236.5h1M89 247.5h1M90.5 223h1M89.5 225h1M90.5 232h1M88.5 231.5h1M92 226.5h1M95 226h1M94 219.5h1M90 236h1M95 226h1M90 228h1M94.5 231h1M90 231h1M86 240h1M90.5 229.5h1M94.5 230.5h1M92.5 221.5h1M86 240.5h1M91.5 233h1M86.5 233h1M90 234.5h1M90 229.5h1M94 231.5h1M93.5 213h1M90.5 233h1M87.5 242h1M88 240h1M91.5 238h1M87.5 237.5h1M93.5 239h1M97 229.5h1M84.5 235h1M93 232h1M92 228.5h1M89 235h1M88 243.5h1M93 231h1M85 241h1M85 227h1M92.5 224h1M87.5 243.5h1M94 231.5h1M91 236h1M96 230.5h1M87 233.5h1M93.5 216.5h1M83 223.5h1M85.5 226.5h1M93.5 218h1M88 228h1M83.5 238h1M92.5 219h1M91.5 230.5h1M93.5 231.5h1M91 243.5h1M85.5 231h1M90 229h1M89.5 237h1M89.5 235h1M89 234.5h1M90.5 234.5h1M91 239.5h1M94.5 236h1M89 225.5h1M89.5 233.5h1M100 233.5h1M84 231h1M87 229.5h1M87 232.5h1M93 240.5h1M88.5 243.5h1M90.5 236.5h1M79 223.5h1M89 228.5h1M88 227.5h1M86 236.5h1M87 226h1M89 246h1M95 226h1M91 234.5h1M97 222h1M92.5 227h1M80.5 241h1M92.5 235.5h1M85 239.5h1M91.5 232.5h1M89.5 229.5h1M91.5 241h1M87 231.5h1M86 232.5h1M85.5 240.5h1M86 236h1M90.5 228.5h1M84 245.5h1M86 233.5h1M86 227.5h1M81.5 236.5h1M92 233h1M91.5 243h1M84 241h1M89 229.5h1M90 236h1M89 226h1M89.5 229h1M91.5 228.5h1M90.5 247h1M89.5 223.5h1M88 228.5h1M92.5 242.5h1M94.5 229.5h1M89 224.5h1M88.5 234.5h1M90 226.5h1M91 245.5h1M89.5 232h1M93.5 234.5h1M88 228h1M92.5 240h1M89 232.5h1M89 236.5h1M94 236h1M81 235.5h1M93.5 230h1M87.5 222h1M93 232h1M91.5 243.5h1M86.5 231h1M88 225.5h1M96 226.5h1M88 243h1M92.5 230h1M92 237h1M99 227.5h1M90 238h1M91.5 232.5h1M93 234h1M88.5 246h1M97 239h1M92.5 232.5h1M88 215h1M93 241h1M92.5 229.5h1M91 247.5h1M93.5 224.5h1M85 229.5h1M87.5 237.5h1M82 237.5h1M87 243h1M89 236.5h1M90 223.5h1M97 229.5h1M85.5 231h1M91 229.5h1M88.5 230h1M90.5 239.5h1M90.5 234.5h1M94 225.5h1M89 242.5h1M86 241h1M89 240h1M87.5 225h1M94.5 230h1M87.5 232.5h1M77.5 235h1M95.5 232.5h1M85 213.5h1M87.5 246h1M89.5 233.5h1M93.5 228.5h1M95 220.5h1M89.5 229h1M91.5 215h1M87.5 238h1M85.5 243.5h1M89 233h1M82 237h1M89.5 241.5h1M86.5 232.5h1M94.5 233h1M91 222.5h1M94 241.5h1M84.5 240h1M94 240.5h1M90 233.5h1M84 229.5h1M90.5 223h1M93 231.5h1M93 229.5h1M84 232h1M88 237.5h1M88 243h1M85.5 246h1M90 241h1M84 237.5h1M89 242h1M87.5 233h1M83.5 237h1M92.5 240h1M88.5 239h1M92.5 227h1M90.5 232.5h1M91.5 238.5h1M91 242.5h1M82.5 244h1M95.5 239.5h1M92 242.5h1M89.5 233h1M91 242.5h1M89 230h1M87.5 243h1M90 230h1M91 229h1M86.5 237.5h1M93.5 228.5h1M89.5 238h1M86.5 219.5h1M93 223.5h1M90.5 237h1M90.5 228.5h1M91.5 243.5h1M85.5 235h1M93 238h1M88.5 228h1M83.5 232.5h1M86 236h1M92 233h1M89.5 241.5h1M87 246.5h1M93.5 226.5h1M85 238.5h1M93.5 220.5h1M89 245.5h1M92.5 226h1M91.5 240.5h1M87 236h1M82.5 245h1M93 221h1M89 228h1M84.5 240.5h1M92 236h1M94.5 228h1M87 239.5h1M92 235h1M89 234.5h1" stroke="#e6000a" stroke-opacity="0.5" stroke-width="1" fill="none"/>
<path d="M90.5 215.5h1M92 214.5h1M90 209.5h1M90 219h1M90.5 216.5h1M100.5 206h1M92.5 214.5h1M89.5 203h1M91 217h1M92 205h1M93 208h1M93 207h1M93.5 203.5h1M102 209.5h1M101.5 202h1M88.5 217.5h1M87.5 217.5h1M92.5 215h1M90.5 213.5h1M89.5 205h1M90.5 210.5h1M100 204.5h1M100 206.5h1M87.5 216.5h1M103.5 203.5h1M97.5 206h1M91.5 215h1M90 216h1M90 209.5h1M90 222.5h1M91.5 218.5h1M94 209.5h1M96.5 204h1M98.5 204.5h1M97.5 207h1M99 200.5h1M94.5 206.5h1M98 203h1M96.5 202h1M92 204.5h1M95 214h1M88 206h1M90 218h1M92 203h1M92.5 212.5h1M94 201.5h1M88 214h1M87 214.5h1M96 211h1M99 209h1M90.5 211.5h1M98 208.5h1M86 219.5h1M91 215h1M97 212.5h1M89.5 211.5h1M100 204h1M103 201.5h1M92 219h1M94.5 204.5h1M93 219.5h1M96.5 215h1M99.5 200.5h1M101.5 199h1M98 207h1M92 221h1M94 200.5h1M93 204.5h1M95.5 204.5h1M97 213.5h1M95.5 209h1M90.5 218h1M100 202h1M103.5 202.5h1M84.5 219.5h1M92.5 213h1M98.5 210.5h1M93.5 206.5h1M101.5 206h1M100 203h1M88 216h1M97.5 203.5h1M100.5 202h1M92 211h1M87 219.5h1M93 211.5h1M92.5 207h1M93.5 218h1M96 203.5h1M86 216.5h1M93.5 207.5h1M93 212h1M94.5 202.5h1M93.5 213h1M85.5 214.5h1M86.5 220h1M100.5 203h1M97.5 200.5h1M90 218.5h1M100.5 204h1M99 205.5h1M89 204.5h1M88.5 215.5h1M90 209h1M102.5 207h1M91.5 208h1M87.5 222h1M91 209h1M92.5 209.5h1M92 209h1M98.5 208h1M95.5 216.5h1M103 206h1M91.5 208h1M102.5 197.5h1M98 204h1M98 201h1M98.5 201h1M87.5 212h1M91.5 201h1M93 216h1M93.5 208.5h1M95.5 211.5h1M89 213.5h1M94.5 220h1M102 203h1M99.5 214h1M93.5 202h1M95.5 200h1M102 208.5h1M94.5 212h1M92 220h1M93 218h1M94.5 206.5h1M100.5 200.5h1M90.5 217h1M91 212h1M86.5 219.5h1M92 205.5h1M88.5 216h1M98 214.5h1M90.5 220h1M97.5 213h1M96 203h1M95.5 209h1M98 207.5h1M101.5 204.5h1M98 215h1M89.5 214.5h1M95.5 215h1M104.5 202h1M91 219h1M95.5 209.5h1M90 213.5h1M97.5 202h1M98 205.5h1M103 206.5h1M98.5 199h1M93 209h1M96 203h1M103.5 204.5h1M101 208.5h1M99.5 200h1M91.5 209h1M96 213h1M90 211.5h1M100.5 205h1M101 203h1M98.5 210h1M94 209h1M91.5 221.5h1M102 207h1M101.5 206h1M100.5 200.5h1M93.5 214.5h1M94 208.5h1M88 215h1M95 206.5h1M89 215h1M97.5 210h1M92.5 220.5h1M96.5 202h1M87 209.5h1M102 197.5h1M92 220.5h1M88.5 213h1M94 213.5h1M98 202.5h1M101 206h1M92 217.5h1M97.5 201h1M92.5 207h1M103.5 201.5h1M97.5 208h1M88.5 212.5h1M101 207h1M98 202.5h1M91 214h1M98.5 203.5h1M97 203h1M92.5 217.5h1M97 210h1M91 207.5h1M103 202.5h1M98 205.5h1M92 221h1M105.5 200h1M99.5 208h1M96.5 211h1M103.5 203h1M87.5 210.5h1M92 208.5h1M105 203.5h1M98 201.5h1M87.5 218.5h1M86.5 222.5h1M99.5 205.5h1M88.5 214.5h1M94 220h1M98 200h1M93.5 222h1M94.5 214h1M87 212.5h1M96 199.5h1M97 216h1M102.5 198h1M87 215h1M88 203h1M89 221.5h1M85 215.5h1M96.5 214h1M93.5 210h1M94 210.5h1M92 215.5h1M90.5 214h1M94.5 207.5h1M89 216.5h1M104 206h1M85.5 217.5h1M93.5 203.5h1M93 208.5h1M87 217h1M95.5 214h1M90.5 203h1M88.5 210.5h1M97 205h1M99.5 204h1M90 209.5h1M90 218h1M87 215.5h1M91.5 211.5h1M93 209h1M89 215.5h1M96 211.5h1M97 201.5h1M94 217.5h1M89.5 216h1M89.5 215h1M100.5 201h1M96.5 211h1M95 205h1M86.5 218.5h1M94 216h1M93.5 208.5h1M94.5 218h1M98.5 209h1M89.5 217h1M91 212.5h1M93.5 204.5h1M98 207h1M102.5 201.5h1M93 203.5h1M88.5 206h1M99 199h1M89 225h1M101.5 199.5h1M103.5 201h1M99.5 210.5h1M94.5 204h1M89.5 215h1M92 221h1M99.5 213h1M88.5 218h1M90.5 208h1M97.5 203h1M97 201.5h1M91 211h1M93.5 206.5h1M100.5 209.5h1M99 216h1M94.5 213h1M95 215.5h1M90.5 210h1M88 218.5h1M94 211h1M97 209.5h1M87 215h1M94.5 205.5h1M103 202.5h1M90 209h1M96 212h1M90 217h1M93.5 209h1M103.5 198h1M91 209h1M88.5 219.5h1M100.5 198.5h1M88 209h1M97 217.5h1M93 208h1M101 203h1M92.5 210h1M89 222h1M94 206h1M92.5 222.5h1M95 219.5h1M101 203h1M91.5 221h1M95.5 215.5h1M88.5 217h1M87 212.5h1M104 201h1M100 199.5h1M96.5 208.5h1M96 205.5h1M97 207h1M92 203h1M93.5 213h1M98.5 219h1M95 214.5h1M92 207h1M93 199h1M96 208.5h1M101 200h1M98 209h1M99.5 211h1M98.5 211h1M92.5 202.5h1M102.5 203.5h1M93 204.5h1M93 206h1M98 200h1M94.5 204.5h1M97.5 216.5h1M86 210h1M95 215.5h1M92 214.5h1M102.5 207.5h1M92.5 209h1M91 219h1M96 201h1M94 214h1M102 203h1M98.5 210.5h1M102 203h1M98 212h1M101 204h1M96.5 202.5h1M91.5 204h1M91 212h1M92 205.5h1M93.5 205h1M99.5 209h1M96.5 203.5h1M105 199.5h1M101 203h1M102 202.5h1M97.5 203h1M89 208h1M100.5 207h1M91.5 207h1M91.5 211.5h1M98 208.5h1M96.5 202h1M93.5 216.5h1M94.5 213h1M102 202.5h1M98.5 209.5h1M96.5 213.5h1M99.5 210h1M97.5 201h1M93.5 221h1M93 206h1M91 209.5h1M97.5 202h1M100 208h1M94.5 208.5h1M95.5 203.5h1M103 199h1M97 207.5h1M90.5 212h1M99.5 206.5h1M93 206.5h1M102.5 202h1M96 202h1M92 207.5h1M94 211.5h1M98.5 199h1M92.5 212.5h1M97 205h1M90.5 207.5h1M92.5 218.5h1M96 210.5h1M95.5 206.5h1M92.5 207.5h1M93.5 203.5h1M88.5 221.5h1M98 205.5h1M90.5 211.5h1M94.5 201h1M93.5 210.5h1M90 219.5h1M98 206.5h1M92.5 206h1M93.5 215h1M90 220h1M90.5 211h1M89 221.5h1M89 209h1M100.5 209.5h1M94 208.5h1M86.5 213h1M96.5 202.5h1M102 202.5h1M96.5 205h1M88 209.5h1M86.5 220h1M87 216.5h1M105.5 204h1M99.5 202h1M93.5 211.5h1M98 210.5h1M89.5 214h1M90 216.5h1M94 211h1M97.5 199.5h1M95.5 215h1M89.5 201h1M93.5 216.5h1M96 210h1M91 213.5h1M87.5 212.5h1M101 208h1M93 208.5h1M89.5 221h1M90 220.5h1M89.5 209h1M102.5 203h1M94.5 209h1M97 207h1M97 216h1M93.5 200.5h1M96 215.5h1M96.5 209.5h1M101 199.5h1M93.5 215.5h1M90 205.5h1M97 198.5h1M99 202h1M94 216h1M90 212h1M94.5 212h1M92.5 216.5h1M101.5 204.5h1M90.5 205.5h1M97.5 219h1M98 202.5h1M95 199.5h1M105 200h1M90.5 211h1M87 214.5h1M94.5 209h1M86.5 220.5h1M97.5 213h1M97.5 204h1M96.5 212.5h1M92 211.5h1M86 210h1M91 203.5h1M92 215.5h1M102 200h1M91 219.5h1M98.5 200h1M103 202.5h1M96.5 202h1M91.5 215h1M93 213h1M94 218h1M92.5 209h1M94 215h1M92 217h1M92.5 218h1M102 202.5h1M90 207.5h1M94 213h1M92 209h1M100 208.5h1M98.5 212h1M93.5 202.5h1M95 203h1M94.5 199.5h1M88.5 216.5h1M100 204h1M98.5 202.5h1M96 199.5h1M91.5 206.5h1M87.5 219.5h1M101 205.5h1M94 202h1M100.5 201.5h1M87.5 209h1M91.5 205h1M91 214h1M93 210.5h1M88.5 210h1M86.5 219.5h1M91.5 210.5h1M101.5 199.5h1M93 210h1M94 218.5h1M92 213.5h1M93 208.5h1M97 201.5h1M88 208.5h1M87.5 209h1M98.5 200.5h1M101.5 199h1M88 212h1M90 215.5h1M98 203h1M100.5 208h1M89 218h1M87.5 211h1M88.5 218h1M97.5 204h1M98.5 206h1M88 211.5h1M86 207.5h1M92.5 207.5h1M100.5 199.5h1M87.5 215h1M97 204.5h1M94 208h1M90.5 211.5h1M96.5 211h1M100.5 199.5h1M106.5 200h1M95.5 210.5h1M99 211.5h1M95.5 207.5h1" stroke="#e6000a" stroke-opacity="0.5" stroke-width="1" fill="none"/>
<polygon points="97.3647,199.156 103.005,198.968 104.603,201.506 102.535,206.676 99.2447,212.316 95.4847,217.486 91.7247,221.246 87.4947,220.776 86.5547,214.666 87.9647,208.086 91.7247,202.916" fill="#e6000a" fill-opacity="1.0" filter="url(#b)"/>
<path d="M180 192.5h1M173.5 249h1M166.5 193.5h1M177 214.5h1M248.5 201.5h1M193.5 237.5h1M163 200.5h1M166 212.5h1M185.5 194h1M247 240.5h1M183.5 224.5h1M166.5 237.5h1M212.5 223h1M218.5 192.5h1M176 229h1M195.5 244.5h1M241 187.5h1M191 180.5h1M182.5 224.5h1M246.5 170h1M179.5 194h1M237.5 201.5h1M204 179.5h1M239.5 171.5h1M213 171h1" stroke="#e6000a" stroke-opacity="0.3" stroke-width="1" fill="none"/>
<path d="M171.5 239h1M197.5 218h1M177.5 231h1M162 243.5h1M175 237h1M181 236.5h1M171 237.5h1M169.5 243h1M177.5 237h1M184 237.5h1M177 235h1M187 227.5h1M176 239.5h1M182 237.5h1M173 241h1M178.5 243h1M176.5 230.5h1M176.5 244h1M188 228h1M183 234h1M177.5 242h1M174 232h1M164.5 244h1M177 238.5h1M180 239.5h1M178 242.5h1M184.5 226.5h1M177 244h1M194.5 219.5h1M175 233.5h1M180 237.5h1M190 233.5h1M176.5 239h1M171.5 241h1M184 229h1M175 241.5h1M168.5 247.5h1M178 241.5h1M168.5 237.5h1M173 240.5h1M180 223.5h1M187.5 236.5h1M168 240h1M179 241h1M181 236h1M181.5 235.5h1M178.5 235.5h1M173 244h1M185.5 227h1M177.5 237.5h1M165.5 244.5h1M160 239.5h1M174.5 242.5h1M171.5 242h1M161.5 250.5h1M174.5 231h1M184.5 228.5h1M169.5 244.5h1M165 238h1M182 233.5h1M172 241.5h1M172.5 246.5h1M190.5 222h1M191 224.5h1M189 229.5h1M183 230.5h1M180.5 233h1M177.5 236h1M177.5 234.5h1M183.5 228.5h1M169 245.5h1M171.5 233.5h1M185.5 222h1M187 236.5h1M180 236h1M172 241.5h1M187 229h1M185 229.5h1M172 241.5h1M178.5 240h1M172 233.5h1M186 230h1M176.5 239.5h1M169.5 247h1M177 232.5h1M169.5 251h1M176 235h1M174 242.5h1M174 244.5h1M174 246.5h1M182.5 230.5h1M180 234h1M185.5 235h1M174.5 243.5h1M180 239.5h1M182 222h1M186 231.5h1M179.5 234h1M182 225.5h1M189 232.5h1M180.5 239h1M181 233.5h1M169 242h1M193 230.5h1M185 233h1M188 233.5h1M168 239h1M187 233.5h1M172.5 241h1M191 236.5h1M189 224.5h1M184 231h1M190.5 232h1M181.5 236.5h1M175 242h1M167 243.5h1M192.5 226.5h1M167.5 238.5h1M195 224.5h1M182 240h1M171.5 237h1M175 232.5h1M178 241h1M176 241.5h1M180 238h1M172 244h1M168 247h1M174.5 239h1M177.5 233h1M167.5 247.5h1M187.5 229h1M174 243.5h1M185.5 235.5h1M177 239h1M170 243.5h1M185.5 230h1M184.5 227.5h1M183.5 235h1M184 228h1M171 246h1M179.5 241h1M168 240.5h1M181.5 237.5h1M178 237h1M180.5 240.5h1M174 242.5h1M178 236h1M169 239.5h1M184 235h1M165.5 251.5h1M178 238h1M190 224h1M179 231.5h1M180.5 235h1M183 234.5h1M191.5 227.5h1M175.5 238h1M173.5 240h1M165 243h1M168.5 247.5h1M166.5 249.5h1M171 242.5h1M182.5 227h1M189 227.5h1M182 241.5h1M184 232h1M176.5 236h1M182.5 233.5h1M179 239.5h1M182.5 236.5h1M181 240h1M191 229h1M181.5 234h1M177 229.5h1M179 229.5h1M185.5 238h1M180.5 228h1M167 245.5h1M178 233.5h1M180.5 235h1M180.5 244.5h1M178 237h1M177.5 241h1M180.5 237.5h1M175 235h1M176 236.5h1M166.5 243.5h1M177.5 241h1M187 228.5h1M167.5 245.5h1M185 230h1M177.5 238.5h1M181.5 230h1M164.5 246h1M163.5 240.5h1M176.5 237h1M176.5 238h1M179.5 231.5h1M178 234.5h1M188.5 233h1M188.5 227.5h1M175.5 240h1M186.5 228.5h1M186.5 238h1M173 234.5h1M177.5 240.5h1M172.5 242h1M191.5 224.5h1M179.5 235.5h1M173.5 242.5h1M191 229.5h1M186.5 229h1M180 238h1M170.5 242.5h1M173.5 244.5h1M180 234h1M175 234.5h1M171.5 242.5h1M171 240h1M180 239h1M181 238h1M178.5 238.5h1M196.5 222.5h1M182 235h1M187 239.5h1M189 225.5h1M179.5 232h1M175.5 240.5h1M191.5 226.5h1M179 232h1M174.5 239h1M177.5 236h1M181.5 240h1M172.5 241.5h1M188.5 230h1M186 230.5h1M171.5 238h1M190 225.5h1M178.5 231h1M181 234.5h1M175 239h1M198 226h1M171.5 240.5h1M165 249h1M174.5 234h1M188 233.5h1M173.5 237h1M180.5 238.5h1M179.5 242.5h1M181 243h1M175 238.5h1M182 237.5h1M186 230h1M188.5 227h1M175.5 234.5h1M188.5 227h1M179 233.5h1M183 239h1" stroke="#e6000a" stroke-opacity="0.42" stroke-width="1" fill="none"/>
<path d="M205 240h1M196.5 239.5h1M199 229h1M198 228h1M196.5 227.5h1M195 239h1M204.5 230h1M195.5 226.5h1M204.5 228h1M200 234h1M196 239h1M203.5 231h1M199 238.5h1M194.5 221h1M197.5 232.5h1M197.5 230.5h1M199.5 230h1M202 238h1M201 238h1M197.5 246h1M204 219.5h1M201 236.5h1M196 238h1M204.5 233h1M198.5 238.5h1M207 229h1M194 232h1M195 237h1M202 228.5h1M202.5 232.5h1M188.5 245.5h1M202 236h1M196 228h1M201.5 233h1M197 229.5h1M195.5 233h1M196.5 232.5h1M199 244h1M204.5 223.5h1M200.5 240.5h1M195.5 223.5h1M195.5 226h1M195.5 218.5h1M194.5 229h1M189.5 237.5h1M197.5 237.5h1M195.5 235h1M199.5 221h1M195.5 225.5h1M193.5 234.5h1M198 229h1M194.5 237h1M205 236h1M203.5 225.5h1M195.5 238.5h1M197 232.5h1M203.5 226.5h1M197.5 232h1M195.5 243.5h1M194.5 225.5h1M194.5 243h1M197 240h1M201 231h1M195.5 237.5h1M192 228h1M191 228.5h1M200 232h1M200 228h1M197 235.5h1M196.5 225h1M197.5 226.5h1M201.5 238h1M196.5 238.5h1M201.5 230.5h1M194 225.5h1M197.5 228.5h1M202 229h1M193 228h1M200 230.5h1M188 220h1M200.5 237h1M204.5 222h1M206 236.5h1M201 225h1M198 242h1M200 234.5h1M204.5 228.5h1M200 234.5h1M202.5 239h1M200.5 220.5h1M198 236h1M199.5 211.5h1M193.5 236.5h1M201.5 236h1M194.5 238h1M201.5 234.5h1M196.5 234h1M202 223h1M196 245.5h1M200.5 242h1M206 243h1M197.5 226h1M198 230.5h1M191 236h1M194 241.5h1M200 237.5h1M196.5 225h1M192 226.5h1M196 239.5h1M189 232.5h1M201 215.5h1M195 234h1M193.5 233h1M197.5 239.5h1M193.5 240h1M196 226.5h1M196.5 241h1M200 229.5h1M190 232h1M196.5 232h1M195.5 234h1M200.5 231h1M197 235h1M198.5 234h1M201 231.5h1M201 248.5h1M196 231h1M199.5 239h1M204.5 229h1M194.5 233h1M204 226h1M198.5 242h1M201.5 224.5h1M196 243.5h1M198 247h1M193.5 228h1M184.5 236.5h1M194 223h1M196.5 234.5h1M193 240.5h1M198 244h1M200 222.5h1M196.5 238.5h1M194.5 238.5h1M200 234h1M201.5 224.5h1M196 234h1M194 230.5h1M196.5 233h1M196 243.5h1" stroke="#e6000a" stroke-opacity="0.45" stroke-width="1" fill="none"/>
<path d="M207 212h1M202.5 210.5h1M206 208h1M201.5 213h1M205.5 203h1M207.5 207h1M198 219h1M200 210h1M206.5 209h1M202 203h1M195.5 213.5h1M206 212h1M211 204.5h1M196 218.5h1M204.5 208h1M206 204.5h1M209 205h1M201 208.5h1M205.5 211.5h1M207 213h1M198 215.5h1M200 216h1M193 219.5h1M201.5 206h1M202 213h1M201.5 207h1M204.5 212h1M198 217h1M200 219.5h1M203.5 214h1M210.5 204h1M206 207.5h1M203 207h1M195 217h1M206 203.5h1M201 215h1M193 209.5h1M206 215.5h1M202 204.5h1M198 210h1M193.5 210h1M196.5 211.5h1M204.5 205.5h1M205 210h1M194.5 208h1M202 205h1M193.5 220h1M204.5 210h1M210.5 210.5h1M206.5 210h1M200.5 216h1M197.5 213h1M201.5 213h1M195 211h1M197 215.5h1M200 215.5h1M204 213h1M209 206.5h1M198 209h1M194.5 212h1M202 215.5h1M206.5 204.5h1M205 216.5h1M207 219h1M203.5 209h1M202 212h1M209.5 209.5h1M202 215h1M197.5 202.5h1M207.5 210.5h1M206 213.5h1M202.5 210.5h1M197 215.5h1M206 201.5h1M195.5 213h1M205 219h1M190.5 214h1M194 208.5h1M200.5 203.5h1M209.5 205h1M193.5 220.5h1M200 216.5h1M205 212.5h1M201 209h1M198.5 218h1M201.5 213.5h1M195 210h1M203.5 212.5h1M202.5 221h1M199 209.5h1M200.5 215.5h1M196 208h1M200.5 208h1M204.5 204.5h1M199.5 207.5h1M206.5 200.5h1M196.5 213h1M202 216h1M199.5 211.5h1M202 207h1M204 216.5h1M207.5 206h1M200.5 211.5h1M201.5 213.5h1M203.5 206.5h1M209 199.5h1M207.5 204.5h1M210.5 207h1M205.5 208.5h1M201.5 203h1M212 206h1M192.5 214.5h1M202 222.5h1M208 209.5h1M203 222h1M195 218h1M202 215.5h1M201.5 218h1M196 214h1M202 211h1M200.5 211.5h1M200.5 216.5h1M194.5 215.5h1M208.5 202h1M204.5 215.5h1M204 205h1M204.5 212.5h1M195 214h1M204 219h1M197.5 213h1M193 208.5h1M204.5 206.5h1M202.5 215h1M201.5 215h1M204 211.5h1M205.5 213h1M191 213h1M196.5 215h1M203.5 214h1M205.5 214h1M194.5 211.5h1M196.5 216h1M201.5 222h1M206.5 209h1M198.5 209.5h1M197.5 217h1M205 205h1M209 203.5h1M205.5 201.5h1M196 218h1M197 207h1M196.5 213.5h1M207.5 203.5h1M201 218h1M210.5 201.5h1M203 220h1M207 213h1M197 205.5h1M205.5 212.5h1M211 203h1M197.5 209h1M201 220h1M204.5 208.5h1M204.5 202.5h1M205.5 206.5h1M203 206h1M203 216.5h1M202 206h1M200.5 219.5h1M197 216h1M201.5 210h1M207 207h1M212 209h1M207 206h1M199.5 216h1M197 215.5h1M197 210.5h1M195.5 211h1M198.5 214.5h1M199.5 210h1M198.5 212.5h1M207 209h1M199 208.5h1M197 211.5h1M199.5 202.5h1M202 206.5h1M202.5 202h1M202 206.5h1M206 216h1M208 205h1M206 208.5h1M206 217.5h1M204.5 217.5h1M194.5 211h1M197 209.5h1M202.5 209.5h1M198.5 209.5h1M196.5 207.5h1M196.5 214.5h1M199.5 204h1M208.5 203.5h1M203.5 218.5h1M202.5 214h1M204 209.5h1M208.5 202.5h1M197 210.5h1M205 202h1M199.5 216h1M199.5 214.5h1M206 210h1M201 206.5h1M201 209.5h1M204 218h1M203 206.5h1M211 205h1M205 208.5h1M199 216h1M201 212h1M210.5 201h1M207 216h1M201 204h1M196.5 207.5h1M204 205.5h1M206 204h1M199 217h1M203 204.5h1M199.5 208h1M200.5 217.5h1M196 211.5h1M201 215.5h1M205.5 201.5h1M205 206h1M194.5 217.5h1M197 210h1M195.5 205.5h1M195.5 214h1M207.5 211.5h1M210 210.5h1M194.5 218h1M199.5 216.5h1M207.5 215.5h1M206.5 216h1M200.5 221h1M206.5 211.5h1M210.5 205h1M204.5 214.5h1M200 207h1M208.5 208h1M200 214h1M204.5 214h1M209.5 208h1M204 207.5h1M206 211h1M207 208h1M198 205h1M196.5 218.5h1M202 202.5h1M194.5 213.5h1M202 218h1M198.5 218.5h1M208.5 207.5h1M206 213.5h1M194 213h1M195 217h1M211.5 209.5h1M210.5 206h1M212 206h1M200 220h1M204 209.5h1M206.5 210h1M197.5 210h1M200.5 218h1M205 208.5h1M200.5 217h1M193 212.5h1M206.5 201.5h1M204.5 216h1M195.5 218h1M198 210h1M199 204.5h1M195.5 206.5h1M205.5 220h1M203 220h1M206.5 208h1M195 213.5h1M200 218.5h1M200 218h1M203.5 211.5h1M213.5 206h1M196 219.5h1M199 222.5h1M202 220.5h1M206.5 209.5h1M197.5 206.5h1M199.5 211.5h1M201 210h1M192.5 212.5h1M198 208h1M199 204h1M203.5 211h1M197 216.5h1M209.5 208.5h1M201.5 207.5h1M207 213.5h1M192 212.5h1M198.5 216h1M193 214h1M195.5 221h1M196 210h1M202.5 215h1M199.5 208h1M198 204h1M201 222h1M205.5 205.5h1M209.5 209.5h1M201.5 214.5h1M196 213.5h1M199 211h1M196.5 214h1M210.5 207h1M201.5 217h1M196.5 207.5h1M195.5 214.5h1M206 210h1M202 207.5h1M201.5 219h1M205.5 209.5h1M202 203.5h1M198 207.5h1M203.5 203.5h1M209.5 208.5h1M204 211.5h1M199.5 211h1M196.5 208h1M198 205h1M199 211h1M200 219h1M196 215.5h1M199 203.5h1M204.5 212h1M205.5 209h1M205 204.5h1M198.5 213.5h1M202 206.5h1M199 210h1M196 214h1M192.5 211h1M202 205.5h1M204 204h1M211 206.5h1M209 205h1M194 215h1M196 218.5h1M208 204.5h1M194.5 207.5h1M208.5 202h1M198 211.5h1M200.5 215h1M199 217h1M202 213.5h1M210 209.5h1M192.5 208.5h1M204 215h1M197 207.5h1M203 212.5h1M206.5 214h1M198.5 208.5h1M195.5 214.5h1M205.5 206h1M200 215h1M211 205.5h1M202 210.5h1M200 207h1M203.5 202h1M204.5 204.5h1M205 208h1M203.5 205h1M202 210h1M209 210h1M204 211.5h1M207.5 207.5h1M201 217.5h1M209 212.5h1M207 206h1M202 208.5h1M206.5 202.5h1M198 213h1M206 213.5h1M210 208.5h1M205.5 204h1M195.5 215.5h1M197 214.5h1M194.5 220.5h1M203 204h1M198.5 204.5h1M206 209h1M204.5 213h1M203 217h1M203 206h1M210 212.5h1M199 213h1M200.5 200.5h1M204 208h1M196 210.5h1M208 206h1M199.5 204h1M205 205.5h1M209 210h1M210.5 207.5h1M205.5 211.5h1M203.5 206h1M203.5 220h1M198 215.5h1M210 205.5h1M205 205.5h1M208 205h1M207 202.5h1M198 210h1M207.5 205.5h1M198.5 204h1M193 213h1M204 216h1M200 207.5h1M206 209.5h1M195 210h1M209 212h1M201 217.5h1M195 212h1M197.5 215h1M199.5 215.5h1M195.5 218.5h1M201.5 203h1M202.5 211.5h1M193.5 211h1M200.5 207.5h1M196 212h1M208.5 211.5h1M201.5 208.5h1M208 205.5h1M199 210h1M197 206.5h1M197.5 207h1M208 207h1M202 204.5h1M210 203h1M201 209.5h1M194.5 209.5h1M198.5 204h1M207 213h1M204.5 203h1M196 215h1M193.5 212.5h1M199 206h1M196.5 211.5h1M200 220h1M195 215.5h1M197.5 209h1M206.5 204.5h1M195.5 219.5h1M201.5 209.5h1M199.5 212h1M202 204.5h1M210 201.5h1M204.5 213.5h1M194 210.5h1M202 212.5h1M200 206.5h1M205.5 205h1M208.5 202h1M198.5 214h1M205.5 210.5h1M198.5 215.5h1M203.5 211.5h1M206 210.5h1M195.5 209.5h1M198.5 214.5h1M202 219h1M196.5 210h1M196.5 208.5h1M200 212h1M202 216.5h1M199 206.5h1M198 204.5h1M201 207h1M197.5 214h1M201.5 216.5h1M193.5 217h1M205.5 216.5h1M193.5 211.5h1M202.5 207.5h1M200.5 207.5h1M198 216.5h1M199.5 212h1M208.5 207.5h1M192.5 218.5h1M207 204h1M207.5 206h1M196 220h1M207 208h1M208.5 206.5h1M204 210h1M200 219h1M199 218.5h1M203.5 215.5h1M203 202h1M199.5 210.5h1M204 215h1M206 203.5h1M194.5 213.5h1M194.5 213h1M199.5 222h1M202 201h1M208 203.5h1M203.5 216h1M201 214.5h1M198.5 215.5h1M198.5 213.5h1M196.5 208.5h1M207 209h1M198 214h1M199.5 217.5h1M209 207.5h1M196.5 214.5h1M200.5 220h1M205.5 203h1M200 216.5h1M203.5 214h1M194 208h1M201.5 208.5h1M203 216h1M197.5 206.5h1M197.5 213h1M206 214h1M202.5 219h1M196 207h1M200.5 206.5h1M206.5 205h1M203 210h1M200 210.5h1M202.5 220h1M204 207.5h1M194.5 219.5h1M208.5 209.5h1M193 209.5h1M196.5 218.5h1M194 218h1M201 213.5h1M200.5 210.5h1M203.5 205h1M197.5 201.5h1" stroke="#e6000a" stroke-opacity="0.5" stroke-width="1" fill="none"/>
<polygon points="197.205,205.275 202.541,202.239 209.073,201.595 211.005,204.815 209.073,210.979 204.841,216.959 201.345,221.099 196.469,220.639 193.525,214.659 193.525,209.139" fill="#e6000a" fill-opacity="1.0" filter="url(#b)"/>
<path d="M310.5 230h1M316.5 224h1M343.5 235.5h1M309 176h1M322.5 249.5h1M341 242.5h1M304 186.5h1M287 197.5h1M326.5 211h1M294 218.5h1M337 186h1M309.5 202h1M283.5 246h1M291.5 206h1M322 199h1M311.5 204.5h1M335.5 176.5h1M286.5 218h1M327 225.5h1M335.5 218.5h1" stroke="#e6000a" stroke-opacity="0.3" stroke-width="1" fill="none"/>
<path d="M296.5 226.5h1M302.5 240h1M307 251h1M304.5 236.5h1M299.5 243.5h1M292.5 219h1M302.5 239h1M305 222h1M307 230h1M301.5 239h1M303 227.5h1M303.5 222h1M302.5 244.5h1M306 238.5h1M304.5 246h1M297 238h1M308 230.5h1M308.5 229h1M306.5 244.5h1M306 240h1M303.5 233h1M295 237h1M303 248h1M298 227h1M301.5 233.5h1M296.5 240h1M309 240.5h1M302.5 245.5h1M306.5 248.5h1M306 230h1M297 228.5h1M302.5 239.5h1M301 239h1M297.5 226h1M308 215.5h1M301 230h1M298.5 240.5h1M302.5 246h1M300.5 241h1M295.5 243h1M306 243h1M300.5 240.5h1M299.5 227h1M302 242h1M308.5 231.5h1M301.5 237h1M298 227h1M308.5 249h1M306.5 230h1M303.5 245.5h1M299.5 241.5h1M300 243.5h1M302.5 233.5h1M300.5 216h1M300.5 227.5h1M303.5 233.5h1M295.5 241.5h1M299.5 234h1M303 224h1M301.5 227h1M306.5 232.5h1M302.5 236h1M306.5 220.5h1M300 235h1M297.5 244h1M304 226h1M301.5 231h1M306 233.5h1M303.5 243.5h1M303.5 243.5h1M302.5 224.5h1M305 229h1M303.5 227h1M298.5 237h1M301.5 225.5h1M306 241.5h1M302 234h1M304 238h1M302.5 248.5h1M306 220.5h1M302.5 235h1M298 240.5h1M305 216h1M304.5 231h1M301.5 246.5h1M301 237.5h1M301.5 240h1" stroke="#e6000a" stroke-opacity="0.35" stroke-width="1" fill="none"/>
<path d="M287 235h1M286.5 237.5h1M288 231h1M281 231h1M287.5 225.5h1M288.5 230h1M283.5 236.5h1M289 229h1M284.5 233.5h1M286.5 233h1M292 226h1M285.5 234.5h1M287 230.5h1M290.5 230.5h1M289 235h1M283 234.5h1M292.5 229h1M287.5 240h1M286 236.5h1M294 221h1M290 227h1M280 235h1M292 227.5h1M287.5 228h1M292.5 224.5h1M288.5 234h1M293 228h1M285.5 235.5h1M292 224.5h1M295 225.5h1M287.5 236.5h1M290.5 224.5h1M286 235h1M288 235h1M288 225h1M290.5 226h1M292 231.5h1M294.5 224h1M285.5 231.5h1M286 233h1M286.5 232h1M289 223h1M291.5 223h1M287 231.5h1M283.5 236.5h1M292.5 226h1M290.5 227h1M295.5 224h1M289 233h1M290.5 227.5h1M289 231h1M287 233.5h1M289.5 230.5h1M288 230.5h1M286.5 231.5h1M284.5 235.5h1M289 228.5h1M290.5 235.5h1M288.5 235h1M290 232.5h1M292 225.5h1M288.5 231.5h1M286 235h1M290 223h1M286.5 231h1M292 229.5h1M286.5 236h1M289 235.5h1M285.5 233h1M285.5 235h1M288 229.5h1M287 231.5h1M286 234h1M292.5 226h1M286.5 233.5h1M288 233.5h1M288.5 233.5h1M281 236.5h1M289.5 231.5h1M290.5 227h1M291.5 223h1M287 234h1M288 234h1M291 222h1M285 236.5h1M290.5 230.5h1M289 230h1M289 237.5h1M289 228.5h1M286.5 236.5h1M291 234.5h1M286.5 232.5h1M289.5 230.5h1M291 227.5h1M283.5 236.5h1M287.5 234.5h1M292 224h1M289 230h1M288 231.5h1M280.5 235h1M289.5 228.5h1M284.5 233h1M288.5 234.5h1M288 236h1M292.5 228h1M281 236.5h1M287.5 227.5h1M285.5 232.5h1M288.5 229h1M288 225h1M287 235.5h1M289.5 229h1M288.5 236h1M289 234.5h1M295 225h1M289.5 237h1M294 227h1M290.5 223h1M294.5 229.5h1M287 227h1M291.5 227h1M291 226h1M288.5 227.5h1M285.5 235h1M287.5 237.5h1M288 230h1M287.5 229h1M291 229.5h1M287 230h1M285 229.5h1M296 225.5h1M284.5 237.5h1M290 231.5h1M291 231h1M292 224.5h1M287.5 227h1M291 224h1M291 226h1M292.5 226.5h1M291 235.5h1M283.5 230.5h1M292 233h1M288.5 233h1M284.5 233.5h1M291 228h1M291 229h1M292 226.5h1M283 235.5h1M287.5 232.5h1M286 233.5h1M294.5 228.5h1M285.5 233h1M291 224.5h1M290.5 232h1M293 232h1M287 236.5h1M286 237h1M281 235h1M292 229h1M286 231.5h1M291.5 229h1M281.5 234.5h1M289 230h1M291 226.5h1M283 233.5h1M284 232.5h1M288 235.5h1M287.5 232h1M286.5 235.5h1M292 226h1M288.5 229h1M290 233.5h1M291 227.5h1M292.5 226h1M290 231h1M289 228h1M287.5 230.5h1M289.5 227.5h1M284 234h1M287.5 229.5h1M292 227.5h1M287 232h1M291.5 227.5h1M288.5 229h1M293 228.5h1M284.5 234.5h1M290 229.5h1M285 227.5h1M291.5 223.5h1M282 238.5h1M292 226.5h1M286.5 227.5h1M290.5 224.5h1M289.5 230.5h1M291 221h1M293.5 227h1M289 238h1M286 231.5h1M289 230h1M293 225h1M291.5 229.5h1M286 232.5h1M284.5 232h1M285 235h1M285 234.5h1M286.5 235.5h1M290.5 229h1M290 228h1M292.5 225h1M293 223.5h1M288.5 231h1M287 233h1M285.5 236h1M287.5 230h1M285.5 230.5h1M286 233h1M287 235h1M291 226.5h1M292 227.5h1M292.5 227h1M284.5 235h1M282.5 234h1M287.5 233h1M286.5 229.5h1M286 231h1M287 231h1M289.5 231h1M291 228h1M295 230h1M288 232.5h1M288.5 232h1M291 226.5h1M287.5 230.5h1M290 228h1M292.5 223h1M284 236h1M288.5 234h1M285.5 232.5h1M287 234h1M291.5 223h1M285.5 231h1M287 231.5h1M291 233h1M289.5 232h1M285 234h1M285 233.5h1M284 236h1M292.5 223.5h1M285.5 234h1M285 235.5h1M294.5 222.5h1M282.5 234h1M283.5 235.5h1M287 234h1M291 227h1M291 228.5h1M285 232.5h1M288.5 238h1M285 228h1M285.5 235.5h1M284.5 235h1M287.5 226.5h1M292.5 231h1M288.5 230.5h1M286 239h1M286.5 235h1M291.5 224h1M284.5 235h1M291 224.5h1M291 226h1M291.5 230.5h1M285 238.5h1M289 229h1M283.5 235.5h1M287 235h1M292 227h1M290 231h1M286 238.5h1M283.5 235h1M294.5 221.5h1" stroke="#e6000a" stroke-opacity="0.5" stroke-width="1" fill="none"/>
<polygon points="272,240 276,234.5 282,232 287,231 288.5,236 286,243 283,249.5 277,251 272,249.5 270.8,245" fill="#e6000a" fill-opacity="0.6" filter="url(#b)"/>
<path d="M270.5 250.5h1M268 246.5h1M287 244.5h1M273 236.5h1M278.5 245.5h1M281.5 236.5h1M284.5 237.5h1M279 243.5h1M288 238h1M281.5 234.5h1M281.5 247h1M275.5 245h1M282 241h1M281.5 236.5h1M274.5 238h1M277.5 232h1M279.5 240h1M282.5 247h1M281.5 246h1M274 248.5h1M278.5 237h1M284.5 240h1M275.5 249.5h1M285.5 236h1M275.5 250.5h1M288.5 232h1M283 248.5h1M271.5 246h1M273.5 246.5h1M277 242.5h1M272 245h1M282.5 239h1M275 236h1M282 240.5h1M278 241.5h1M274 246h1M279.5 229.5h1M281 242h1M281.5 238.5h1M273.5 242.5h1M285.5 234h1M277.5 238h1M277 242.5h1M272.5 245h1M277.5 237h1M285.5 243h1M274.5 246h1M275.5 238h1M277 241.5h1M275.5 239h1M278.5 243h1M284 245h1M277 239.5h1M281 241.5h1M288 236.5h1M275 249.5h1M283 248.5h1M283.5 246h1M280 247h1M278.5 248.5h1M281 232.5h1M284.5 235.5h1M276.5 246h1M283.5 240.5h1M272.5 242h1M284 243h1M271 245.5h1M283.5 239h1M276 249h1M281 244.5h1M277.5 237.5h1M281.5 247.5h1M286.5 236.5h1M278 242.5h1M283.5 232.5h1M273.5 240h1M275 241.5h1M271.5 248.5h1M279.5 235h1M281 240h1M278 244.5h1M276 232.5h1M284.5 235.5h1M283 234.5h1M278.5 249.5h1M284 240h1M282.5 239.5h1M278 245.5h1M280 243.5h1M276 241.5h1M279.5 244.5h1M275.5 242h1M279.5 234h1M280 234h1M272 244.5h1M283 238.5h1M285.5 237.5h1M282 248h1M278.5 243.5h1M276 239h1M276.5 235h1M287 241.5h1M273 239.5h1M284 247h1M279.5 246.5h1M278 244h1M278 236.5h1M287.5 232h1M274.5 247h1M283 246.5h1M277 241.5h1M288 236h1M280 241.5h1M285.5 234h1M283 239.5h1M278.5 234.5h1M278.5 239.5h1M283 241h1M279.5 246.5h1M273.5 239h1M287 238h1M277.5 248h1M271 244h1M285.5 238.5h1M273.5 244.5h1M279.5 235h1M283 244h1M276.5 238.5h1M276.5 238h1M278 233.5h1M276.5 238h1M285.5 237h1M272.5 245h1M277.5 241h1M285.5 246.5h1M279 236h1M284 245h1M273.5 245.5h1M284.5 237.5h1M276 245h1M272 241h1M281.5 233.5h1M280 245.5h1M281 235h1M286 235h1M279 243h1M279 245.5h1M278 237.5h1M283 234.5h1M286.5 238h1M285.5 232.5h1M275.5 235h1M286 244h1M275 250.5h1M273 241h1M275.5 239h1M275.5 239.5h1M278.5 238.5h1M279.5 235h1M286.5 232h1M273 250h1M271 245.5h1M275 246h1M288 240.5h1M284.5 235h1M281 242.5h1M285 245h1M281.5 247.5h1M283 235.5h1M273.5 246.5h1M279 242.5h1M274 236.5h1M283.5 243.5h1M284 249h1M278 237h1M283.5 243.5h1M272.5 244.5h1M288 240.5h1M283.5 246h1M280 247.5h1M279 248.5h1M277 234.5h1M276 245.5h1M273.5 251.5h1M271.5 245h1M277 241.5h1M284.5 238.5h1M279.5 236h1M285 245.5h1M274.5 237.5h1M284 236h1M274 248.5h1M276 243h1M275.5 247h1M275.5 233h1M290.5 236.5h1M278 241.5h1M286 233.5h1M278 232.5h1M273 238h1M280 247h1M280.5 231.5h1M282 248.5h1M287.5 238h1M278 235.5h1M281 239h1M287 238.5h1M279 234h1M269.5 244.5h1M272 245.5h1M275 247.5h1M276 249.5h1M281 236h1M272.5 241.5h1M281.5 237h1M284.5 237h1M276.5 249h1M282 235h1M284 235.5h1M282 236h1M285 233h1M279.5 233.5h1M271 244.5h1M282 247.5h1M288 241h1M268 247h1M279.5 241h1M278.5 247h1M281 248h1M280.5 245.5h1M279.5 248.5h1M280 238.5h1M278 244.5h1M287.5 240.5h1M284 234h1M282.5 236.5h1M282.5 242h1M276.5 235.5h1M269.5 243.5h1M283 232h1M288.5 235h1M271 243.5h1M279.5 248h1M271 241h1M286.5 232.5h1M282.5 239.5h1M281.5 239.5h1M282 250h1M288 234h1M269.5 241h1M275 239.5h1M279 235.5h1M274 244.5h1M279.5 238.5h1M282 245.5h1M275 240h1M284 235h1M275.5 243h1M270 245.5h1M290.5 232.5h1M274.5 251h1M275 251h1M276 246h1M283.5 235h1M276 239.5h1M274.5 243h1M279.5 250.5h1M270.5 245.5h1M282.5 234.5h1M279.5 248.5h1M272 250h1M286.5 235.5h1M270.5 243.5h1M279.5 246.5h1M281 244h1M284 238.5h1M276.5 247.5h1M280 247.5h1M276.5 238h1M284 243h1M281 244h1M276.5 234.5h1M272.5 246h1M278.5 236h1M275.5 239h1M280 245h1M281 235.5h1M287 246h1M283.5 245h1M279 246.5h1M274.5 248h1M283 245.5h1M281 236h1M281.5 246h1M274.5 242.5h1M281 244h1M287 234.5h1M280 243.5h1M271 246h1M278 240h1M284 239h1M278.5 243h1M279.5 243h1M282 237.5h1M282.5 240.5h1M277.5 251h1M278 238h1M278 245.5h1M275.5 248h1M285 237.5h1M279.5 248.5h1M282 236.5h1M284 234h1M284.5 247.5h1M284.5 244h1M279 235.5h1M285.5 236.5h1M281.5 234h1M285.5 236.5h1M275.5 248h1M279.5 243h1M282.5 236.5h1M283.5 240.5h1M288.5 236h1M272 243.5h1M278 245.5h1M279.5 242.5h1M278.5 242h1M270 239.5h1M284 236h1M271.5 239h1M278 239.5h1M285 231h1M270 244.5h1M275.5 245.5h1M282.5 241h1M273.5 238.5h1M285 238.5h1M280 244h1M279 242.5h1M280.5 249.5h1M275 237h1M281 244.5h1M279 250.5h1M283.5 235.5h1M283.5 232.5h1M285 247.5h1M273.5 251h1M280.5 246.5h1M285 234.5h1M289 237h1M279.5 249.5h1M273.5 248.5h1M278.5 242h1M285.5 238h1M272 238.5h1M277.5 236.5h1M276 242.5h1M269 242.5h1M274 244.5h1M278 244.5h1M280.5 236h1M281 236h1M279 243.5h1M269.5 246h1M289 237.5h1M285.5 239.5h1M278 247.5h1M285.5 239.5h1M269 244h1M286.5 239h1M279.5 235h1M280.5 246h1M280.5 236h1M283.5 246h1M270.5 248.5h1M282 233.5h1M288 235h1M283 249.5h1M280.5 233.5h1M277.5 246h1M270.5 239h1M275.5 248h1M279.5 247.5h1M275.5 249.5h1M282 238.5h1M277.5 239h1M276 237h1M286 231h1M273.5 247h1M278.5 248h1M280.5 238.5h1M273.5 243.5h1M274 246h1M285.5 246h1M272 243h1M283.5 240.5h1M289 236.5h1M271.5 248h1M272.5 240.5h1M281.5 246h1M282.5 242.5h1M285.5 250h1M274 241h1M285.5 241.5h1M274.5 237h1M281.5 241h1M276.5 233h1M286.5 235h1M279.5 248h1M277 238.5h1M285 238h1M281 243h1M279.5 234h1M283 243.5h1M284 245h1M281.5 239h1M278.5 242h1M283.5 236h1M276 236.5h1M274.5 243.5h1M274 234h1M280 237.5h1M285 232.5h1M278.5 236.5h1M280 246.5h1M273.5 239.5h1M277.5 249h1M277.5 243h1M272.5 237.5h1M281.5 248.5h1M280.5 242h1M281 241.5h1M279.5 240h1M279 240h1M280.5 244.5h1M281 246.5h1M285.5 235h1M277.5 251h1M279.5 242h1M286.5 236.5h1M275.5 236h1M271.5 248.5h1M276.5 239h1M282 250.5h1M278.5 234.5h1M279.5 235h1M285.5 236h1M283.5 234.5h1M274.5 250.5h1M272 240h1M275.5 233h1M281 249h1M281.5 231.5h1M272.5 245h1M280.5 244.5h1M284.5 237.5h1M277 247.5h1M276 236h1M273.5 237.5h1M277 237h1M278 246.5h1M283.5 244.5h1M277 245.5h1M278.5 251h1M276 241h1M280.5 245h1M281 247h1M281 236.5h1M283.5 236h1M283 242.5h1M276.5 248h1M270 243h1M279.5 243.5h1M279.5 245.5h1M287.5 239.5h1M270 251.5h1M286 240.5h1M281.5 245h1M284 235h1M276.5 238h1M280 240.5h1M275 242.5h1M277 246.5h1M283 242h1M277 237h1M288 239.5h1M281 235.5h1M283 240h1M289.5 236h1M284.5 249h1M279.5 248h1M288 241h1M284.5 240.5h1M278 249.5h1M284 242.5h1M280 243.5h1M283 236h1M278.5 249.5h1M278 243.5h1M284 236h1M282 246.5h1M286.5 231.5h1M285 241.5h1M282.5 233h1M290 234.5h1M286.5 231.5h1M287 231.5h1M276.5 244.5h1M278.5 246.5h1M288 235h1M278.5 240h1M282.5 234.5h1M278.5 235h1M284.5 242.5h1M276.5 238.5h1M281 244h1M286 231h1M279.5 248h1M282.5 245h1M279 250h1M282 229.5h1M274.5 244.5h1M270 238.5h1M288.5 231h1M278.5 250.5h1M281 246.5h1M283 237.5h1M276 243h1M273 245h1M288 237h1M290.5 231.5h1M278.5 246.5h1M276 251h1M285 244.5h1M273 247.5h1M271.5 247.5h1M286.5 247h1M268.5 244.5h1M284 238.5h1M283.5 230.5h1M273 245.5h1M286 243h1M281.5 236h1" stroke="#e6000a" stroke-opacity="0.55" stroke-width="1" fill="none"/>
<polygon points="302,219 302.5,213 306,206.5 311,201 314.5,201.5 314,206 310,213 306,219.5" fill="#e6000a" fill-opacity="0.55" filter="url(#b)"/>
<path d="M307 211h1M309.5 206.5h1M312 207.5h1M310 207h1M309 214h1M314.5 203h1M306.5 220.5h1M302.5 213.5h1M305 206.5h1M310.5 205h1M314 198h1M312 204.5h1M302 216.5h1M312 203h1M310 207h1M306.5 213.5h1M308.5 202.5h1M306 216.5h1M305 217h1M312 202.5h1M312.5 209.5h1M306.5 212.5h1M300.5 219.5h1M309.5 205.5h1M315 202.5h1M308.5 206.5h1M303.5 211.5h1M307.5 205h1M303 214h1M308.5 214.5h1M306 205h1M307.5 207.5h1M304 221.5h1M305.5 209.5h1M304 216.5h1M309.5 209h1M312 212h1M306.5 207h1M305.5 211h1M306.5 206h1M311 206h1M308.5 214h1M312 204h1M312 204h1M311 204.5h1M305 212h1M302 216h1M309.5 203h1M305 209.5h1M309.5 207.5h1M312.5 203.5h1M304 218.5h1M307 219.5h1M312.5 201h1M306 208h1M302.5 217h1M306.5 211.5h1M307.5 219h1M310 202h1M306.5 212.5h1M308 214h1M307.5 212h1M309 213.5h1M310 205h1M301.5 216.5h1M302.5 218h1M312.5 201h1M307 217.5h1M309 209h1M308.5 206h1M304.5 218.5h1M305 212.5h1M306 215h1M305.5 214.5h1M302 212h1M309 200h1M311 206h1M307.5 209.5h1M305 217h1M309 204h1M303.5 213.5h1M309 210.5h1M305 214h1M308 212h1M311 209h1M315.5 203.5h1M305.5 210h1M306.5 209.5h1M312.5 205.5h1M310 211.5h1M305 210h1M305.5 214h1M302.5 210h1M307 211.5h1M312.5 204.5h1M307.5 209h1M310.5 205.5h1M305.5 215h1M307.5 207.5h1M304.5 213h1M313 208.5h1M306.5 208h1M308 206h1M303 215h1M307 210.5h1M306.5 211h1M311.5 206h1M304 210.5h1M307.5 212.5h1M312.5 206.5h1M303.5 216.5h1M308 208h1M314 204h1M305 212.5h1M302 217h1M307.5 212h1M312 210h1M312 203.5h1M311 204.5h1M312.5 203.5h1M315.5 204.5h1M303.5 215h1M307.5 213.5h1M311.5 202h1M311 210.5h1M304.5 213.5h1M300.5 212h1M308 207.5h1M304 215.5h1M303 209.5h1M308 206h1M315 204h1M304.5 218h1M311.5 205.5h1M302.5 214h1M305.5 207.5h1M310 206.5h1M304.5 218.5h1M306 211.5h1M310 209h1M310.5 212h1M308.5 209h1M311.5 207.5h1M313.5 207h1M309.5 209h1M309 203.5h1M303.5 214.5h1M307 208.5h1M313.5 211h1M300 214.5h1M312.5 207.5h1M306 210.5h1M313 205.5h1M307.5 217h1M309.5 207h1M308.5 205h1M309.5 206h1M306 204.5h1M310.5 210h1M312 209h1M305.5 215.5h1M310 210h1M304 215.5h1M307 207.5h1M312.5 205h1M308 211.5h1M312.5 207.5h1M313.5 206h1M313.5 203.5h1M311 207.5h1M308 217.5h1M310 203.5h1M311.5 206h1M307 211.5h1M315 205h1M304 218h1M312 203.5h1M307 217.5h1M312 206h1M311 203h1M303.5 214.5h1M303.5 219h1M306.5 216h1M314 206h1M304.5 216h1M312.5 201.5h1M303.5 213h1M303.5 212.5h1M306 209h1M312 204h1M302 219h1M306 213h1M307.5 211.5h1M307.5 210.5h1M301 213.5h1M312 203h1M310 211h1M311.5 203h1M310.5 206h1M311.5 206h1M310 202.5h1M311 202h1M313 206.5h1M314 204h1M313 206h1M308 210h1M311 211h1M305 213h1M304.5 221h1M311 205h1M311 201h1M306.5 212.5h1M309 206.5h1M307.5 208h1M312 208.5h1M306 205.5h1M307.5 209h1M307.5 210.5h1M313 202.5h1M306 215h1M303 216h1M312 206.5h1M306.5 212.5h1M304 213h1M302.5 217h1M304 209.5h1M309 206h1M307 207h1M309 207.5h1M309 217.5h1M312 203h1M309.5 210.5h1M308.5 202h1M305 217h1M315 202h1M304 211h1M310 205.5h1M306 211.5h1M312.5 208h1M308 206.5h1M309 212h1M310.5 209h1M304.5 220h1M304 212.5h1M307.5 217h1M309 206.5h1M301.5 216h1M306.5 216.5h1M313 206.5h1M303 216.5h1M307 216h1M310 210h1M310 204.5h1M308.5 209h1M314 206h1M308.5 212h1M304.5 218.5h1M307.5 215.5h1M307.5 204.5h1M304.5 210.5h1M308.5 203h1M308.5 203h1M309 211h1M312 209.5h1M310.5 204h1M310 207h1M309.5 210.5h1M311 206.5h1M309 207.5h1M308.5 215.5h1M311 208h1M305 213.5h1M313 202h1M304 213.5h1M303.5 212h1M311 206.5h1M309 204.5h1M304.5 218.5h1M307.5 206.5h1M307 213.5h1M311.5 206h1M308.5 210.5h1M304.5 217.5h1M306 215.5h1M311.5 211h1M312.5 205h1M309 211.5h1M311 203.5h1M307.5 218h1M303 209h1M313.5 204h1M307 214.5h1M305.5 204h1M302 221.5h1M304.5 218.5h1M307 206.5h1M311.5 207h1M311 204.5h1M309 213.5h1M306 211.5h1M314 200h1M307 219h1M311 206.5h1M310 204h1M312.5 206.5h1M311.5 205.5h1M308 213h1M306 217h1M306 216h1M306.5 211.5h1M307.5 213.5h1M308.5 207.5h1M311 212h1M314 208.5h1M309 213.5h1M307.5 213.5h1M306.5 204h1M312 205.5h1M304 221h1M309.5 211h1M310 209.5h1M307.5 212h1M304.5 217h1M311 202.5h1M306.5 209h1M308 207.5h1M304.5 211.5h1M314 204h1M305.5 209h1M304 210h1M304 211h1M307 213.5h1M309 205.5h1M311 202h1M306.5 219h1M308 211.5h1M305.5 212h1M305 216.5h1M311 211.5h1M313.5 206.5h1M303.5 214.5h1M311 209.5h1M307 217.5h1M307 209h1M307.5 209h1M311.5 205h1M312.5 204.5h1M303.5 217h1M306 216.5h1M305 211.5h1M307 205h1M308.5 210.5h1M305 216.5h1M313 211h1M306.5 217h1M304 212.5h1M310 203h1M311 214h1M313.5 203h1M310 213.5h1M308.5 213.5h1M310.5 209.5h1M309 210h1M307 215h1M304 212.5h1M305 216.5h1M309 204.5h1M306.5 215.5h1M305.5 213h1M313 199.5h1M303 214h1M305.5 217.5h1M301.5 214h1M304.5 212h1M310 204.5h1M305.5 215.5h1M311.5 206.5h1M307.5 216h1M309 209.5h1M311 207.5h1M308.5 215h1M307.5 206h1M309.5 206.5h1M306.5 207.5h1M314 205h1M305.5 206h1M312.5 203h1M308.5 205h1M302 215.5h1M307 211h1M306 210.5h1M308.5 212h1M310.5 210h1M304 217h1M313.5 207h1M308.5 207.5h1M310 209.5h1M306.5 214.5h1M304 209h1M308.5 208.5h1M312 200h1M315 209.5h1M311 207.5h1M308.5 217h1M307 215h1M311 207h1M313 199.5h1M305.5 213h1M303.5 211h1M307.5 213.5h1M310 211.5h1M302.5 210h1M312.5 205.5h1M309 207h1M306 212h1M303.5 214h1M303 212.5h1M312 205h1M314.5 207h1M305 217h1" stroke="#e6000a" stroke-opacity="0.6" stroke-width="1" fill="none"/>
<path d="M454 171h1M450.5 235.5h1M395 170h1M386 191.5h1M430.5 184.5h1M453.5 170.5h1M439.5 222h1M455 236.5h1M419.5 191.5h1M393.5 200h1M441.5 238.5h1M445 170h1M375.5 242.5h1M425 198.5h1M390.5 199h1M386 242h1M429 188h1M398.5 211.5h1M384.5 179h1M436.5 185.5h1" stroke="#e6000a" stroke-opacity="0.25" stroke-width="1" fill="none"/>
<path d="M397 222.5h1M405.5 224h1M402.5 215h1M414 219h1M406 220.5h1M400 234h1M412.5 226.5h1M403 216h1M393 219.5h1M388.5 223.5h1M400 222h1M398 218h1M410.5 224h1M405.5 223h1M406 215h1M405.5 225.5h1M393.5 229h1M396 223h1M411 219.5h1M378 217.5h1M393.5 223h1M393.5 214h1M386.5 226h1M403.5 209h1M402.5 216.5h1M414 226.5h1M400 213.5h1M393 223.5h1M397 215.5h1M390.5 225.5h1M415 227h1M409.5 223.5h1M403 212.5h1M403.5 215.5h1M409.5 218h1M405.5 228h1M397 218.5h1M413.5 222h1M400.5 219h1M401.5 214.5h1M392.5 225.5h1M401.5 222h1M402.5 227.5h1M405.5 228h1M404.5 219.5h1M394 223.5h1M398 221h1M398 217.5h1M398 216.5h1M390.5 212h1M403 221.5h1M409 217.5h1M401.5 230h1M390.5 223h1M391.5 228.5h1M413 221.5h1M391.5 230.5h1M400.5 234.5h1M408 217h1M392 226h1" stroke="#e6000a" stroke-opacity="0.3" stroke-width="1" fill="none"/>
<polygon points="382.5,244 384,237 388,230.5 393,225.5 395.5,227 394,233 390,240 386,246" fill="#e6000a" fill-opacity="0.45" filter="url(#b)"/>
<path d="M385.5 238h1M394.5 227h1M392 236.5h1M380.5 244h1M391.5 230.5h1M394 233.5h1M392 226.5h1M392 234.5h1M394.5 228h1M388 233.5h1M391 234.5h1M387 240.5h1M388 229.5h1M390.5 237h1M385 241.5h1M396.5 231.5h1M391.5 226h1M393 233h1M390 232h1M386.5 241h1M388 239.5h1M391 233h1M382.5 240.5h1M396 228.5h1M390 240h1M387 235h1M386.5 242.5h1M391.5 228h1M393 231h1M389.5 236.5h1M388 232h1M391 237h1M390 235.5h1M392 238h1M383 242h1M390.5 236h1M393.5 235h1M387.5 240.5h1M393 229h1M395 228h1M385.5 240h1M384.5 243.5h1M395.5 227.5h1M386 238.5h1M389.5 232h1M385.5 236.5h1M389 235.5h1M391.5 244h1M392 235h1M386 242h1M385.5 241.5h1M385.5 233.5h1M390 229.5h1M383.5 243.5h1M388 241h1M387.5 238.5h1M392 230h1M391.5 232h1M394.5 234.5h1M389.5 236.5h1M390 232.5h1M388 244h1M394 227h1M385 242.5h1M384.5 241h1M394 233h1M383 245h1M388.5 238.5h1M393.5 226.5h1M388.5 238h1M389 230h1M394.5 225h1M393.5 230.5h1M387 240h1M393.5 231h1M391 236.5h1M384.5 242.5h1M386.5 240.5h1M388.5 236h1M383 236h1M382.5 241.5h1M385 237.5h1M389 237.5h1M388 229.5h1M390 238h1M381 236.5h1M394 227h1M390.5 241h1M394.5 229h1M394.5 226.5h1M387.5 227.5h1M385 237h1M394 235h1M384 236h1M389 238.5h1M391 234.5h1M391.5 234.5h1M391 234h1M392.5 228h1M395 225.5h1M385 242.5h1M391.5 235.5h1M390 235.5h1M391 235.5h1M388 234h1M390.5 230h1M393.5 235.5h1M384.5 243h1M385.5 240.5h1M387.5 238h1M390.5 235h1M384.5 239h1M389.5 241h1M386 239h1M388 240h1M389.5 240.5h1M388 233.5h1M389.5 233h1M389.5 229h1M384.5 233h1M393.5 230h1M394.5 234h1M384.5 234.5h1M382 241h1M390.5 231.5h1M390.5 237h1M388 228.5h1M386 234.5h1M386.5 242.5h1M395 236h1M388.5 244.5h1M390.5 240.5h1M390 239.5h1M393.5 227.5h1M384 233.5h1M389.5 229.5h1M391.5 235.5h1M385.5 232.5h1M389.5 228.5h1M395 226h1M390.5 237.5h1M389 241h1M382 235h1M393.5 226h1M395 228.5h1M385 242.5h1M392.5 237h1M392 233.5h1M385 239h1M388 228h1M390 233h1M386 242h1M391 240.5h1M390.5 233.5h1M390.5 234h1M385.5 239h1M387 234.5h1M384.5 240.5h1M384.5 244.5h1M390 236h1M386 236h1M388 231.5h1M389 234h1M390.5 241h1M391 233h1M390 231h1M381.5 240h1M392.5 226.5h1M390.5 233.5h1M391.5 241h1M391 234.5h1M393.5 227h1M388.5 235.5h1M389.5 235h1M390.5 237.5h1M388 230h1M390.5 236h1M385 233.5h1M390 230h1M390 237h1M386.5 234.5h1M386.5 238.5h1M394.5 227h1M388.5 234.5h1M384 234.5h1M398.5 227h1M392 235.5h1M388.5 234.5h1M387 234.5h1M385 246.5h1M387 234h1M393 235h1M387.5 238.5h1M390 238h1M391.5 233.5h1M384 240h1M390.5 231h1M384.5 241.5h1M389 230.5h1M393.5 232.5h1M394.5 231h1M385.5 239h1M383 240h1M391 232.5h1M385 237.5h1M386 241.5h1M382 238h1M389 235h1M388 232.5h1M387.5 230.5h1M384.5 242.5h1M393 234.5h1M394 230.5h1M393.5 233.5h1M393 224.5h1M392 227.5h1M389.5 243h1M386 247h1M390 235.5h1M393 229h1M383.5 243.5h1M387.5 235h1M389 242h1M386 237.5h1M386.5 238h1M387.5 240.5h1M388.5 228.5h1M384.5 243h1M388.5 238h1M392 227h1M391 239.5h1M387.5 239h1M386 236h1M393 234h1M386 243h1M392.5 232.5h1M380.5 240.5h1M387.5 240h1M394.5 225.5h1M388.5 233.5h1M391 236.5h1M385.5 238.5h1M387 239.5h1M390.5 227.5h1M390.5 236h1M383 244h1M387.5 242.5h1M392.5 231h1M386.5 235h1M385 240.5h1M393.5 231h1M392 230h1M395.5 236h1M382 246h1M391.5 231.5h1M389.5 226.5h1M386.5 233h1M383.5 239.5h1M391 241h1M385.5 234.5h1M395 232h1M386.5 243.5h1M383 243h1M386.5 236h1M385 239h1M391 235.5h1M390.5 230h1M388 235.5h1M393.5 232h1M385.5 239h1M388 237h1M388.5 232.5h1M394.5 232h1M385 243.5h1M385.5 244h1M388.5 235.5h1M385.5 236h1M389.5 239h1M390.5 225.5h1M385 243h1M385.5 244.5h1M395.5 230h1M390 231.5h1M383 245.5h1M391 230.5h1M387.5 237.5h1M384 243.5h1M387 236.5h1M392 231.5h1M385.5 242.5h1M386 244.5h1M386.5 242h1M396 232.5h1M390.5 231.5h1M386.5 238.5h1M382 241h1M392.5 229h1M392 224h1M388 230h1M389 237.5h1M387 232.5h1M390 247.5h1M386 241h1M390.5 231h1M389.5 232h1M384.5 240h1M391.5 235h1M388 232h1M383 242h1M393 231h1M385 235h1M393.5 226.5h1M387.5 235h1M384.5 235.5h1M389.5 237h1M384.5 234.5h1M388 232.5h1M391.5 232.5h1M388.5 231h1M388.5 238.5h1M388.5 238.5h1M386.5 237.5h1M385.5 241h1M385.5 247h1M385.5 234h1M387 235h1M381 242h1M389.5 232h1M388.5 239h1M383 239.5h1M384 239.5h1M384.5 243h1M386.5 238h1M386.5 242h1M388 232h1M385.5 241h1M385.5 237h1M380.5 237.5h1M389.5 231h1M384 243.5h1M393.5 228.5h1M389 239h1M392.5 237.5h1M393 226.5h1M394 225h1M388 238h1M393 236h1M386.5 237h1M387.5 234h1M387.5 242h1M387 233.5h1M389.5 239.5h1M389.5 230h1M389 230h1M386.5 233h1M386 242h1M387 230h1M389 239h1M394.5 237h1M395 226.5h1M386 238h1M393.5 230.5h1M388 241h1M387.5 235.5h1M387 240h1M386 236h1M391.5 229.5h1M388.5 240h1M387 235.5h1M390 226h1M389 240h1M388 243.5h1M386 241.5h1M386.5 239.5h1M385.5 243.5h1M389.5 240.5h1M390.5 230.5h1M390 237h1M394 227h1M394.5 226h1M383.5 241h1M390 229h1M387 246h1M383.5 241h1M390 239.5h1M390 240h1M387.5 242h1M397.5 229.5h1M390 233.5h1M393 234h1M390.5 239.5h1M383 238h1M390.5 230h1M386.5 236h1M396 230.5h1M384.5 241h1M381.5 237.5h1M385 237.5h1M391 228.5h1M393 231h1M388 238.5h1M387 232h1M386.5 233.5h1M393 233h1M390 234.5h1M385 241.5h1M392 227h1M389.5 229h1M385 238h1M391 226.5h1M385 244.5h1M393.5 226h1M387 236h1M395 225.5h1M387 233h1M386 238h1M389 234.5h1M385.5 240.5h1M396 231h1M385.5 240.5h1M389.5 242h1M390.5 233h1M384 241h1M393 231h1M387.5 243.5h1M391 228.5h1M387.5 232h1M386.5 244.5h1M390 231h1M393.5 228h1M383.5 239.5h1M388.5 234.5h1M386.5 244.5h1M390 232.5h1M382.5 240h1M387.5 232h1M394 231h1M394.5 237h1M384 245.5h1M389.5 227.5h1M392.5 227.5h1M387.5 234.5h1M392 226h1M387.5 240.5h1M390 229.5h1M382.5 238.5h1M385 242h1M388.5 230.5h1M391 234.5h1M391.5 236h1" stroke="#e6000a" stroke-opacity="0.55" stroke-width="1" fill="none"/>
<polygon points="402,238 403.5,232 407,226 412,221 415,221.5 413.5,227 409,233 405,238.5" fill="#e6000a" fill-opacity="0.35" filter="url(#b)"/>
<path d="M414 225h1M407 229h1M406.5 235h1M412 220.5h1M409 225.5h1M409.5 226.5h1M408 224.5h1M410 229h1M409 224h1M407 232.5h1M404.5 234.5h1M412.5 229h1M407.5 236h1M411 225h1M411.5 224h1M405 234h1M408.5 233h1M405 231.5h1M405 230h1M405 236.5h1M411 224h1M411 230h1M412.5 224h1M409 231.5h1M407.5 228h1M402.5 237h1M407.5 233h1M406.5 230h1M406.5 232h1M411 230h1M407 235.5h1M414.5 224.5h1M412.5 225h1M404.5 237.5h1M405 235.5h1M413 231.5h1M411.5 224.5h1M407.5 233h1M412 230h1M406.5 227.5h1M411 235h1M404.5 231h1M409.5 234.5h1M410 223.5h1M403 240h1M415 225h1M412.5 222.5h1M411.5 223.5h1M409.5 227h1M410.5 229.5h1M405 229h1M409 225.5h1M403 233.5h1M410.5 226h1M409.5 223.5h1M411 230h1M406 233h1M413 219.5h1M413 223h1M406.5 229h1M412.5 229h1M408.5 232.5h1M412.5 228.5h1M413 223.5h1M411 225.5h1M406.5 236.5h1M403 239h1M409 229.5h1M408 224h1M408 227h1M403.5 229h1M414 223h1M405 233.5h1M413.5 225h1M415.5 222h1M402 236.5h1M407.5 229h1M404.5 235h1M411.5 226h1M418.5 224.5h1M411 228h1M405.5 234.5h1M406 237.5h1M409.5 223h1M413 225.5h1M408.5 228h1M406 227.5h1M410.5 232h1M405.5 228.5h1M408 231h1M411 226.5h1M408 229h1M412 225h1M408.5 228.5h1M405.5 232h1M412.5 224.5h1M405.5 238.5h1M415 221.5h1M409 234.5h1M413.5 222.5h1M406 234h1M410 231.5h1M407 235.5h1M404 237.5h1M409.5 229.5h1M404.5 233h1M407 238.5h1M412.5 229h1M406.5 233h1M407.5 229h1M408 232h1M413 225h1M404.5 233.5h1M409 231.5h1M410 231h1M404.5 229.5h1M408.5 230h1M412.5 223h1M406.5 232.5h1M415 223.5h1M410 222h1M410.5 225h1M410.5 227.5h1M403 236.5h1M407 222h1M408 231.5h1M404.5 237h1M409 231.5h1M408.5 231.5h1M411.5 229.5h1M412.5 226h1M408 226.5h1M411.5 233h1M413.5 226.5h1M407.5 234h1M409 233.5h1M408.5 234.5h1M405 233.5h1M406 230h1M419.5 223.5h1M408.5 229h1M409.5 229.5h1M409.5 232.5h1M409 232h1M405.5 235.5h1M404 232.5h1M406 227.5h1M409.5 229.5h1M405 239h1M402.5 237.5h1M408 224h1M405.5 231h1M409.5 231h1M405 236.5h1M406 230h1M408 231.5h1M407.5 228.5h1M409.5 225.5h1M405 239h1M401.5 229h1M412.5 225h1M410.5 222.5h1M405 230.5h1M409 223.5h1M405.5 229h1M409 234.5h1M408.5 223h1M408 227.5h1M403.5 239.5h1M410.5 227h1M413 220.5h1M403 230.5h1M403.5 231h1M402.5 235.5h1M412.5 223.5h1M401.5 236h1M407.5 234h1M409 230h1M408.5 229.5h1M406.5 231.5h1M412 220.5h1M399 233.5h1M408.5 227h1M413 221h1M412 225.5h1M407.5 233.5h1M409.5 233h1M412 223.5h1M411.5 223.5h1M407 228.5h1M413.5 228h1M405 235.5h1M405.5 231h1M405 233.5h1M407.5 237h1M410 226.5h1M406 235h1M408 229.5h1M409 235.5h1M406 234h1M410.5 226.5h1M406 238.5h1M411.5 222h1M410 232.5h1M409 226.5h1M405.5 236.5h1M410 226h1M410 232h1M409.5 236.5h1M403.5 235h1M409.5 224.5h1M405 227.5h1M404.5 234.5h1M414.5 223h1M406 229.5h1M410.5 231h1M407.5 233.5h1M409.5 228h1M405 234h1M404 236.5h1M404.5 231.5h1M407 230.5h1M416.5 224h1M406 233.5h1M409.5 226h1M408 227.5h1M406.5 237h1M405 233.5h1M401.5 230.5h1M413 226.5h1M410 225h1M414 222.5h1M412.5 224.5h1M412 228h1M409.5 226.5h1M405 234h1M413.5 223h1M411 228h1M410.5 230.5h1M402 235h1M409.5 221h1M411 229.5h1M415.5 224h1M405 231h1M414 221.5h1M402 236h1M404.5 229.5h1M411.5 223.5h1M406.5 235h1M411.5 227h1M407 227.5h1M405.5 234h1M407.5 224h1M405.5 233.5h1M402.5 234h1M414.5 223h1M408 229.5h1M402.5 233h1M417 223.5h1M408 232.5h1M407 237h1M414.5 225h1M408.5 225.5h1M408 233.5h1M404 237.5h1M408.5 231.5h1M410.5 231h1M406 231h1M408 233.5h1M408.5 227h1M413.5 224h1M410.5 226.5h1M408 225.5h1M408 228.5h1M412 224h1M411.5 228.5h1M411 231h1M411.5 225h1M406 231.5h1M410 229h1M405 230.5h1M407.5 225h1M408.5 232h1M407.5 233.5h1M411 221h1M407 228.5h1M406 226.5h1M412 228.5h1M413 229.5h1M413.5 224.5h1M406 233h1M403.5 236.5h1M415.5 223.5h1M409 227h1M409.5 228.5h1M406 232.5h1M406 230h1M409 227h1M411 222.5h1M402.5 232.5h1M414.5 221.5h1M413 227h1M402.5 235.5h1M410 232h1M407 229h1M409.5 226.5h1M402 234h1M410 221.5h1M414.5 225h1M413 228h1M409 229.5h1M407 227.5h1M408 240.5h1M414.5 228.5h1M407 230h1M411.5 220.5h1M407.5 233.5h1M412 220h1M404.5 234.5h1M409.5 229.5h1M412 226.5h1M411 225h1M404.5 233.5h1M402 236h1M403.5 236.5h1M403.5 232h1M404 233h1M409 235h1M405.5 227.5h1M405 231.5h1M415.5 224.5h1M412.5 221.5h1M409.5 222.5h1M406 234.5h1M407 221.5h1M411.5 223h1M407.5 237h1M408.5 230h1M414.5 222.5h1M413 222.5h1M406.5 234h1M410.5 228h1M406.5 232h1M409 226h1M405 227.5h1M409.5 229h1M410.5 229h1M411.5 227.5h1M410 228.5h1M410.5 228.5h1M412.5 225h1M406.5 229h1M411 225.5h1M405.5 235.5h1M411 224.5h1M405.5 239.5h1M409.5 227h1M410 231h1M401.5 232h1M409.5 228.5h1M404 235h1M411.5 225.5h1M412 230.5h1M403.5 231.5h1M406 228.5h1M402 231h1M408.5 233.5h1M406 233.5h1M410.5 224h1M406 238h1M403 237.5h1M405.5 230.5h1M405 232h1M404 229h1M401.5 234.5h1M415 221h1M403.5 232.5h1M409.5 228h1M412.5 228h1M410 219.5h1M405 238h1M410.5 227.5h1M412 225h1M412 227.5h1M409.5 225h1M409.5 232h1M401.5 236.5h1M407 226h1M407.5 228h1M405.5 232h1M405.5 232.5h1M412 220h1M403 230.5h1M409 227h1M414 224h1M404 237h1M404 238h1M407 230h1M408.5 223h1M410.5 224.5h1" stroke="#e6000a" stroke-opacity="0.5" stroke-width="1" fill="none"/>
<rect x="48" y="167" width="100.19999999999999" height="85.19999999999999" fill="none" stroke="#333" stroke-width="1.0"/>
<line x1="84.2" y1="167" x2="84.2" y2="252.2" stroke="#333" stroke-width="1.0"/>
<line x1="48" y1="222" x2="148.2" y2="222" stroke="#333" stroke-width="1.0"/>
<text x="44.8" y="257.8" font-size="4.6" fill="#888">10<tspan font-size="3.4" dy="-1.6">0</tspan></text>
<text x="69.8" y="257.8" font-size="4.6" fill="#888">10<tspan font-size="3.4" dy="-1.6">1</tspan></text>
<text x="94.9" y="257.8" font-size="4.6" fill="#888">10<tspan font-size="3.4" dy="-1.6">2</tspan></text>
<text x="119.9" y="257.8" font-size="4.6" fill="#888">10<tspan font-size="3.4" dy="-1.6">3</tspan></text>
<text x="145.0" y="257.8" font-size="4.6" fill="#888">10<tspan font-size="3.4" dy="-1.6">4</tspan></text>
<path d="M43.4 168.7h2.4M43.4 188.8h2.4M43.4 210h2.4M43.4 231.2h2.4M43.4 252h2.4" stroke="#444" stroke-width="2.6"/>
<path d="M43.4 185.60000000000002h2M43.4 206.8h2M43.4 228.0h2M43.4 248.8h2" stroke="#aaa" stroke-width="1.4"/>
<text x="50.6" y="182.3" font-size="13.6" font-weight="normal" text-anchor="start" fill="#000" >LN</text>
<rect x="156.7" y="167" width="96.10000000000002" height="85.4" fill="none" stroke="#333" stroke-width="1.0"/>
<line x1="191.4" y1="167" x2="191.4" y2="252.4" stroke="#333" stroke-width="1.0"/>
<line x1="156.7" y1="222.6" x2="252.8" y2="222.6" stroke="#333" stroke-width="1.0"/>
<text x="153.5" y="258.0" font-size="4.6" fill="#888">10<tspan font-size="3.4" dy="-1.6">0</tspan></text>
<text x="177.5" y="258.0" font-size="4.6" fill="#888">10<tspan font-size="3.4" dy="-1.6">1</tspan></text>
<text x="201.6" y="258.0" font-size="4.6" fill="#888">10<tspan font-size="3.4" dy="-1.6">2</tspan></text>
<text x="225.6" y="258.0" font-size="4.6" fill="#888">10<tspan font-size="3.4" dy="-1.6">3</tspan></text>
<text x="249.6" y="258.0" font-size="4.6" fill="#888">10<tspan font-size="3.4" dy="-1.6">4</tspan></text>
<path d="M152.1 168.7h2.4M152.1 188.8h2.4M152.1 210h2.4M152.1 231.2h2.4M152.1 252h2.4" stroke="#444" stroke-width="2.6"/>
<path d="M152.1 185.60000000000002h2M152.1 206.8h2M152.1 228.0h2M152.1 248.8h2" stroke="#aaa" stroke-width="1.4"/>
<text x="162.6" y="182.3" font-size="13.6" font-weight="normal" text-anchor="start" fill="#000" >Thy</text>
<rect x="262.7" y="167" width="95.80000000000001" height="85" fill="none" stroke="#333" stroke-width="1.0"/>
<line x1="296.6" y1="167" x2="296.6" y2="252" stroke="#333" stroke-width="1.0"/>
<line x1="262.7" y1="222" x2="358.5" y2="222" stroke="#333" stroke-width="1.0"/>
<text x="259.5" y="257.6" font-size="4.6" fill="#888">10<tspan font-size="3.4" dy="-1.6">0</tspan></text>
<text x="283.4" y="257.6" font-size="4.6" fill="#888">10<tspan font-size="3.4" dy="-1.6">1</tspan></text>
<text x="307.4" y="257.6" font-size="4.6" fill="#888">10<tspan font-size="3.4" dy="-1.6">2</tspan></text>
<text x="331.4" y="257.6" font-size="4.6" fill="#888">10<tspan font-size="3.4" dy="-1.6">3</tspan></text>
<text x="355.3" y="257.6" font-size="4.6" fill="#888">10<tspan font-size="3.4" dy="-1.6">4</tspan></text>
<path d="M258.09999999999997 168.7h2.4M258.09999999999997 188.8h2.4M258.09999999999997 210h2.4M258.09999999999997 231.2h2.4M258.09999999999997 252h2.4" stroke="#444" stroke-width="2.6"/>
<path d="M258.09999999999997 185.60000000000002h2M258.09999999999997 206.8h2M258.09999999999997 228.0h2M258.09999999999997 248.8h2" stroke="#aaa" stroke-width="1.4"/>
<text x="265.6" y="182.3" font-size="13.6" font-weight="normal" text-anchor="start" fill="#000" >BM</text>
<rect x="367.3" y="166.8" width="93.30000000000001" height="85.19999999999999" fill="none" stroke="#333" stroke-width="1.0"/>
<line x1="399" y1="166.8" x2="399" y2="252" stroke="#333" stroke-width="1.0"/>
<line x1="367.3" y1="228.3" x2="460.6" y2="228.3" stroke="#333" stroke-width="1.0"/>
<text x="364.1" y="257.6" font-size="4.6" fill="#888">10<tspan font-size="3.4" dy="-1.6">0</tspan></text>
<text x="387.4" y="257.6" font-size="4.6" fill="#888">10<tspan font-size="3.4" dy="-1.6">1</tspan></text>
<text x="410.8" y="257.6" font-size="4.6" fill="#888">10<tspan font-size="3.4" dy="-1.6">2</tspan></text>
<text x="434.1" y="257.6" font-size="4.6" fill="#888">10<tspan font-size="3.4" dy="-1.6">3</tspan></text>
<text x="457.4" y="257.6" font-size="4.6" fill="#888">10<tspan font-size="3.4" dy="-1.6">4</tspan></text>
<path d="M362.7 168.5h2.4M362.7 188.60000000000002h2.4M362.7 209.8h2.4M362.7 231.0h2.4M362.7 251.8h2.4" stroke="#444" stroke-width="2.6"/>
<path d="M362.7 185.40000000000003h2M362.7 206.60000000000002h2M362.7 227.8h2M362.7 248.60000000000002h2" stroke="#aaa" stroke-width="1.4"/>
<text x="371.8" y="182.3" font-size="13.6" font-weight="normal" text-anchor="start" fill="#000" >Liv</text>
<text x="25.9" y="254.7" font-size="11.9" font-weight="normal" text-anchor="start" fill="#000" textLength="39.2" lengthAdjust="spacingAndGlyphs" transform="rotate(-90 25.9 254.7)">γδTCR</text>
<line x1="33.7" y1="208.0" x2="33.7" y2="266.4" stroke="#000" stroke-width="1.5"/>
<path d="M33.7 196.3L36.6 209.0L30.800000000000004 209.0Z" fill="#000"/>
<line x1="32.95" y1="265.8" x2="145.0" y2="265.8" stroke="#000" stroke-width="1.5"/>
<path d="M157.3 265.8L144.0 262.90000000000003L144.0 268.7Z" fill="#000"/>
<text x="62.9" y="278.6" font-size="13.6" font-weight="normal" text-anchor="start" fill="#000" >CD3(in)</text>
<path d="M98.3 333.79999999999995V489.4 M97.3 484.4H320.4" stroke="#000" stroke-width="2.2" fill="none"/>
<line x1="92.8" y1="484.4" x2="98.3" y2="484.4" stroke="#000" stroke-width="2"/>
<text x="92.6" y="487.9" font-size="10" font-weight="bold" text-anchor="end" fill="#000" >0</text>
<line x1="92.8" y1="470.79999999999995" x2="98.3" y2="470.79999999999995" stroke="#000" stroke-width="2"/>
<text x="92.6" y="474.29999999999995" font-size="10" font-weight="bold" text-anchor="end" fill="#000" >10</text>
<line x1="92.8" y1="457.2" x2="98.3" y2="457.2" stroke="#000" stroke-width="2"/>
<text x="92.6" y="460.7" font-size="10" font-weight="bold" text-anchor="end" fill="#000" >20</text>
<line x1="92.8" y1="443.59999999999997" x2="98.3" y2="443.59999999999997" stroke="#000" stroke-width="2"/>
<text x="92.6" y="447.09999999999997" font-size="10" font-weight="bold" text-anchor="end" fill="#000" >30</text>
<line x1="92.8" y1="430.0" x2="98.3" y2="430.0" stroke="#000" stroke-width="2"/>
<text x="92.6" y="433.5" font-size="10" font-weight="bold" text-anchor="end" fill="#000" >40</text>
<line x1="92.8" y1="416.4" x2="98.3" y2="416.4" stroke="#000" stroke-width="2"/>
<text x="92.6" y="419.9" font-size="10" font-weight="bold" text-anchor="end" fill="#000" >50</text>
<line x1="92.8" y1="402.79999999999995" x2="98.3" y2="402.79999999999995" stroke="#000" stroke-width="2"/>
<text x="92.6" y="406.29999999999995" font-size="10" font-weight="bold" text-anchor="end" fill="#000" >60</text>
<line x1="92.8" y1="389.2" x2="98.3" y2="389.2" stroke="#000" stroke-width="2"/>
<text x="92.6" y="392.7" font-size="10" font-weight="bold" text-anchor="end" fill="#000" >70</text>
<line x1="92.8" y1="375.59999999999997" x2="98.3" y2="375.59999999999997" stroke="#000" stroke-width="2"/>
<text x="92.6" y="379.09999999999997" font-size="10" font-weight="bold" text-anchor="end" fill="#000" >80</text>
<line x1="92.8" y1="362.0" x2="98.3" y2="362.0" stroke="#000" stroke-width="2"/>
<text x="92.6" y="365.5" font-size="10" font-weight="bold" text-anchor="end" fill="#000" >90</text>
<line x1="92.8" y1="348.4" x2="98.3" y2="348.4" stroke="#000" stroke-width="2"/>
<text x="92.6" y="351.9" font-size="10" font-weight="bold" text-anchor="end" fill="#000" >100</text>
<line x1="92.8" y1="334.79999999999995" x2="98.3" y2="334.79999999999995" stroke="#000" stroke-width="2"/>
<text x="92.6" y="338.29999999999995" font-size="10" font-weight="bold" text-anchor="end" fill="#000" >110</text>
<line x1="98.3" y1="484.4" x2="98.3" y2="489.4" stroke="#000" stroke-width="2"/>
<text x="98.89999999999999" y="501.0" font-size="10.6" font-weight="bold" text-anchor="middle" fill="#000" >0</text>
<line x1="135.15" y1="484.4" x2="135.15" y2="489.4" stroke="#000" stroke-width="2"/>
<text x="135.75" y="501.0" font-size="10.6" font-weight="bold" text-anchor="middle" fill="#000" >25</text>
<line x1="172.0" y1="484.4" x2="172.0" y2="489.4" stroke="#000" stroke-width="2"/>
<text x="172.6" y="501.0" font-size="10.6" font-weight="bold" text-anchor="middle" fill="#000" >50</text>
<line x1="208.85" y1="484.4" x2="208.85" y2="489.4" stroke="#000" stroke-width="2"/>
<text x="209.45" y="501.0" font-size="10.6" font-weight="bold" text-anchor="middle" fill="#000" >75</text>
<line x1="245.7" y1="484.4" x2="245.7" y2="489.4" stroke="#000" stroke-width="2"/>
<text x="246.29999999999998" y="501.0" font-size="10.6" font-weight="bold" text-anchor="middle" fill="#000" >100</text>
<line x1="282.55" y1="484.4" x2="282.55" y2="489.4" stroke="#000" stroke-width="2"/>
<text x="283.15000000000003" y="501.0" font-size="10.6" font-weight="bold" text-anchor="middle" fill="#000" >125</text>
<line x1="319.4" y1="484.4" x2="319.4" y2="489.4" stroke="#000" stroke-width="2"/>
<text x="320.0" y="501.0" font-size="10.6" font-weight="bold" text-anchor="middle" fill="#000" >150</text>
<text x="209.3" y="517.9" font-size="11.9" font-weight="bold" text-anchor="middle" fill="#000" >weeks</text>
<text x="66.6" y="408.5" font-size="12.5" font-weight="bold" text-anchor="middle" fill="#000" transform="rotate(-90 66.5 408.5)">Percent survival</text>
<text x="209.4" y="321.2" font-size="14.5" font-weight="bold" text-anchor="middle" fill="#000" >Survival Curve</text>
<path d="M98.3 348.4H280.7" stroke="#000" stroke-width="2.2" fill="none"/>
<path d="M108 348.4v-3.6M120 348.4v-3.6M131 348.4v-3.6M134 348.4v-3.6M140 348.4v-3.6M144 348.4v-3.6M150 348.4v-3.6M158 348.4v-3.6M161 348.4v-3.6M167.7 348.4v-3.6M177.7 348.4v-3.6M187 348.4v-3.6M197 348.4v-3.6M207 348.4v-3.6M217.7 348.4v-3.6M227 348.4v-3.6M264.6 348.4v-3.6M273.8 348.4v-3.6M280 348.4v-3.6" stroke="#000" stroke-width="1.6"/>
<path d="M98.3 348.4H158V351.2H189.5V361H223.8V380.6H236V390.3H247.5V400.4H274" stroke="#6a6a6a" stroke-width="2.2" fill="none"/>
<path d="M198 361v-3M203 361v-3M208 361v-3M213 361v-3M218 361v-3M252 400.4v-3M258 400.4v-3M264 400.4v-3M270 400.4v-3M273.5 400.4v-3M240.8 390.3v-3" stroke="#6a6a6a" stroke-width="1.4"/>
<path d="M150.8 348.4H151.4V351.5H152.6V354.6H153.9V357.7H157.0V360.8H164.1V363.9H165.6V366.9H167.4V370.0H169.8V373.1H171.3V376.2H172.0V379.3H172.6V382.4H173.3V385.5H174.0V388.6H174.8V391.7H175.6V394.8H176.3V397.9H177.2V400.9H178.2V404.0H179.2V407.1H180.1V410.2H181.3V413.3H183.8V416.4H186.7V419.5H188.0V422.6H190.4V425.7H192.0V428.8H192.1V431.9H192.3V434.9H192.4V438.0H195.1V441.1H196.0V444.2H196.2V447.3H202.2V450.4H204.1V453.5H205.9V456.6H208.8V459.7H212.9V462.8H214.4V465.9H216.7V468.9H222.8V472.0H227.6V475.1H229.2V478.2H232.8V481.3H236.6V484.4" stroke="#e60000" stroke-width="2.1" fill="none"/>
<path d="M150.3 348.4H153.3V350.4H159.3V352.5H163.3V354.5H167.3V356.6H169.7V358.6H171.8V360.6H173.8V362.7H175.1V364.7H176.3V366.8H177.6V368.8H178.7V370.9H179.7V372.9H180.7V374.9H181.7V377.0H183.6V379.0H186.9V381.1H188.4V383.1H189.2V385.1H190.0V387.2H190.8V389.2H191.6V391.3H192.1V393.3H192.7V395.4H193.2V397.4H193.8V399.4H196.5V401.5H199.3V403.5H203.5V405.6H205.9V407.6H206.9V409.6H207.8V411.7H209.1V413.7H212.3V415.8H215.5V417.8H218.6V419.9H221.5V421.9H222.6V423.9H223.6V426.0H224.7V428.0H226.2V430.1H227.8V432.1H229.4V434.1H232.1V436.2H234.8V438.2H236.1V440.3H236.9V442.3H238.4V444.4H244.6V446.4H276.5" stroke="#000" stroke-width="3" fill="none" stroke-dasharray="3.3 2"/>
<path d="M297.7 344.6C301.7 344.6 301.7 344.6 301.7 347.8V367.7C301.7 369.9 302.7 370.9 304.8 370.9C302.7 370.9 301.7 371.9 301.7 374.09999999999997V393.90000000000003C301.7 397.1 301.7 397.1 297.7 397.1" stroke="#000" stroke-width="1.6" fill="none"/>
<path d="M292.5 400.8C301.7 400.8 301.7 400.8 301.7 404.0V438.3C301.7 440.5 302.7 441.5 306.2 441.5C302.7 441.5 301.7 442.5 301.7 444.7V480.1C301.7 483.3 301.7 483.3 292.5 483.3" stroke="#000" stroke-width="1.6" fill="none"/>
<path d="M276.5 446.6C282.2 446.6 282.2 446.6 282.2 449.8V461.8C282.2 464 283.2 465 286.3 465C283.2 465 282.2 466 282.2 468.2V479.40000000000003C282.2 482.6 282.2 482.6 276.5 482.6" stroke="#000" stroke-width="1.6" fill="none"/>
<text x="311.6" y="378.8" font-size="12.5" font-weight="bold" text-anchor="start" fill="#000" >**</text>
<text x="313.0" y="448.2" font-size="12.5" font-weight="bold" text-anchor="start" fill="#000" >**</text>
<text x="287.6" y="472.3" font-size="12.5" font-weight="bold" text-anchor="start" fill="#000" >**</text>
<path d="M334.8 363.4H351.4M343 363.4v-3" stroke="#000" stroke-width="2" fill="none"/>
<text x="360.6" y="368.5" font-size="11.3" font-weight="normal" text-anchor="start" fill="#000" >+/+</text>
<path d="M334.8 380.3H351.4M343 380.3v-3" stroke="#000" stroke-width="2" fill="none"/>
<text x="360.6" y="385.40000000000003" font-size="11.3" font-weight="normal" text-anchor="start" fill="#000" >+/-</text>
<rect x="334.5" y="396.7" width="2" height="2" fill="#000"/><rect x="348.7" y="396.7" width="2" height="2" fill="#000"/>
<path d="M341.6 398.9L343 395.09999999999997L344.4 398.9Z" fill="#000"/>
<text x="360.6" y="402.8" font-size="11.3" font-weight="normal" text-anchor="start" fill="#000" >-/-</text>
<text x="382.0" y="402.7" font-size="10.95" font-weight="normal" text-anchor="start" fill="#000" >Lymphoma + Not lymphoma</text>
<path d="M334.8 414.6H351.4M343 414.6v-3" stroke="#e60000" stroke-width="2" fill="none"/>
<text x="360.6" y="419.70000000000005" font-size="11.3" font-weight="normal" text-anchor="start" fill="#000" >-/-</text>
<text x="382.0" y="419.6" font-size="10.95" font-weight="normal" text-anchor="start" fill="#000" >Lymphoma</text>
<path d="M334.8 431.5H351.4M343 431.5v-3" stroke="#6a6a6a" stroke-width="2" fill="none"/>
<text x="360.6" y="436.6" font-size="11.3" font-weight="normal" text-anchor="start" fill="#000" >-/-</text>
<text x="382.0" y="436.5" font-size="10.95" font-weight="normal" text-anchor="start" fill="#000" >Not lymphoma</text>
</svg></body></html>
